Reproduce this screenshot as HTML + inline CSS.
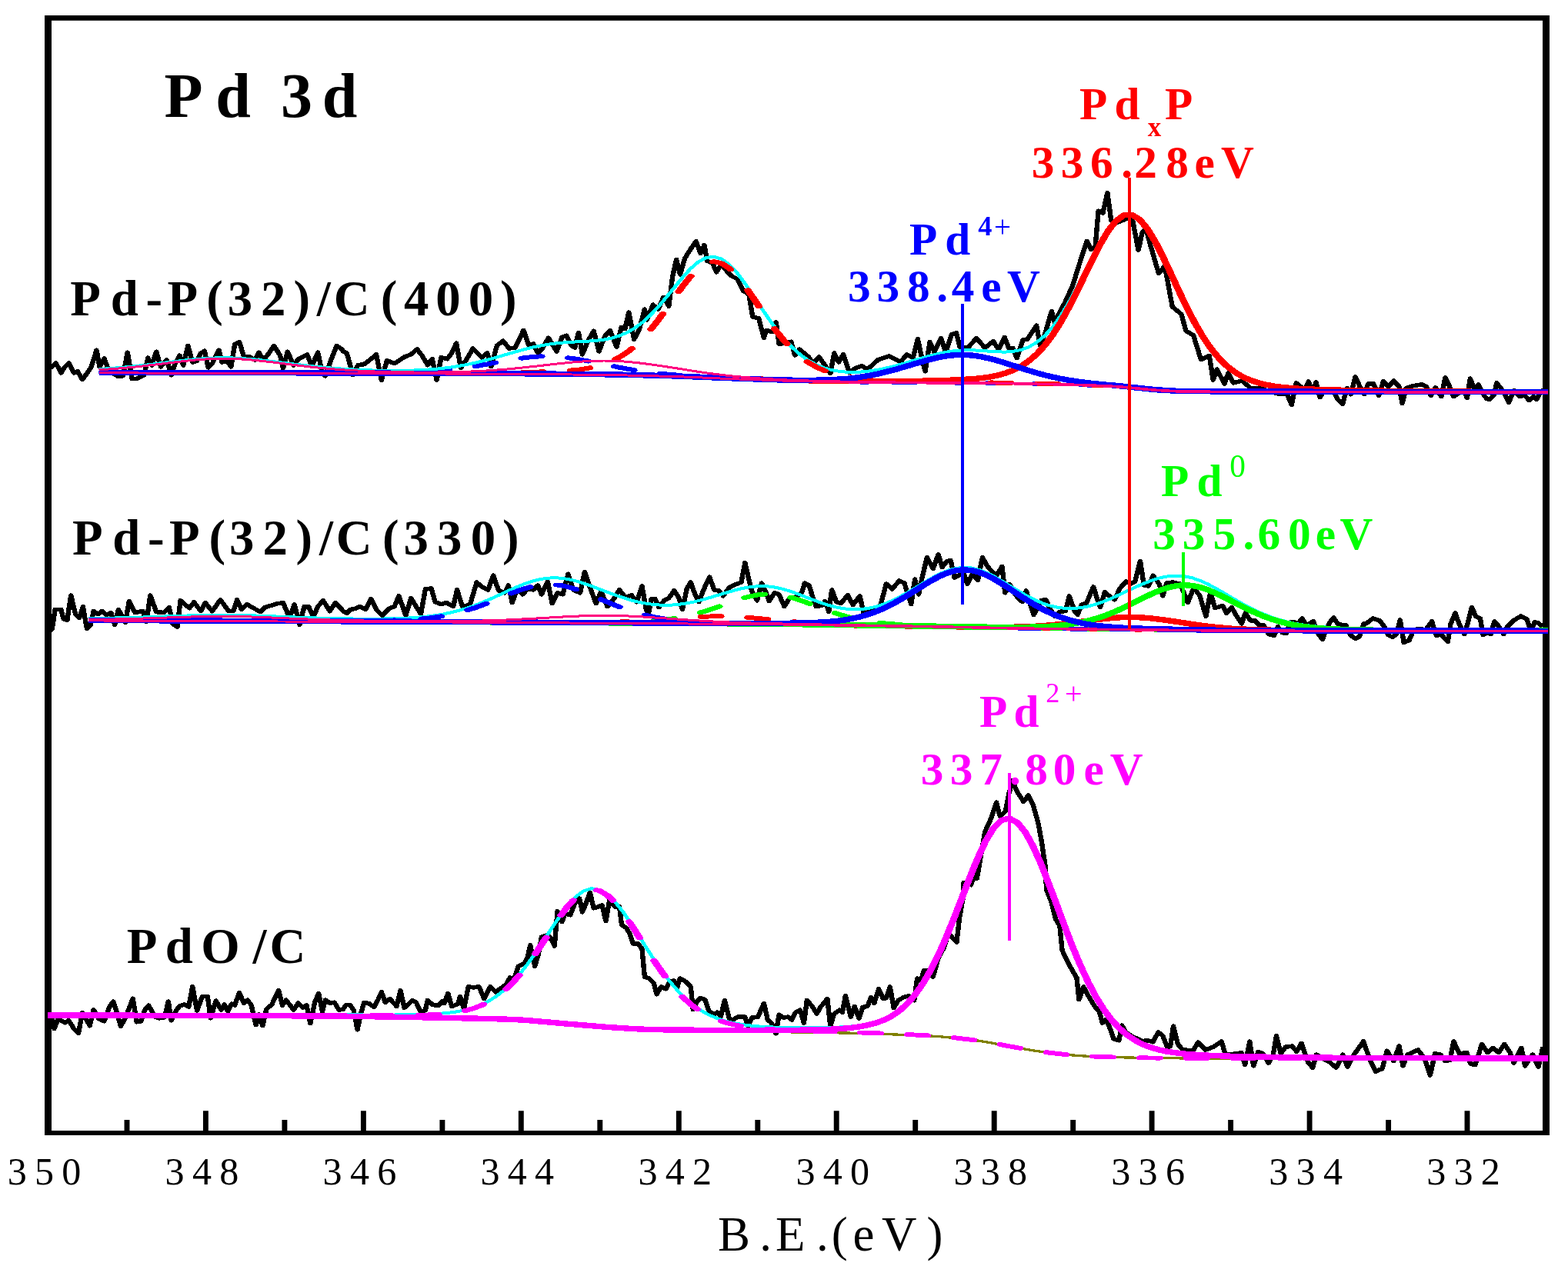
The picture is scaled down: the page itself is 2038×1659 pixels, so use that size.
<!DOCTYPE html>
<html lang="en">
<head>
<meta charset="utf-8">
<title>Pd 3d XPS spectra</title>
<style>
html,body{margin:0;padding:0;background:#fff;}
body{width:2038px;height:1659px;overflow:hidden;}
svg{display:block;}
text{font-family:"Liberation Serif",serif;white-space:pre;}
.b{font-weight:bold;}
.r{font-weight:normal;}
</style>
</head>
<body>
<svg width="2038" height="1659" viewBox="0 0 2038 1659" role="img" aria-label="Pd 3d XPS spectra">
<rect width="2038" height="1659" fill="#fff"/>
<path d="M58 20H2014V1476H58ZM67 26.8V1470H2005V26.8Z" fill="#000" fill-rule="evenodd"/>
<path d="M165 1471V1456M267.4 1471V1444.2M369.9 1471V1456M472.4 1471V1444.2M574.9 1471V1456M677.3 1471V1444.2M779.8 1471V1456M882.3 1471V1444.2M984.8 1471V1456M1087.2 1471V1444.2M1189.7 1471V1456M1292.2 1471V1444.2M1394.7 1471V1456M1497.1 1471V1444.2M1599.6 1471V1456M1702.1 1471V1444.2M1804.6 1471V1456M1907 1471V1444.2" fill="none" stroke="#000" stroke-width="6.9"/>
<defs>
<clipPath id="c1"><rect x="128.2" y="0" width="1883.8" height="1659"/></clipPath>
<clipPath id="c2"><rect x="114.8" y="0" width="1897.2" height="1659"/></clipPath>
<clipPath id="c3"><rect x="62" y="0" width="1950" height="1659"/></clipPath>
</defs>
<g fill="none" stroke-linejoin="round" shape-rendering="crispEdges">
<path transform="scale(1.14 1)" d="M54.2 1322.8L59.4 1324.8L61.9 1337.5L66.2 1324.8L74 1329.7L78.3 1326.7L84.3 1337.5L89.5 1343.4L93.8 1316.9L98.1 1324.8L102.4 1333.6L106.7 1313L112.7 1324.8L118.8 1327.7L124.8 1309.1L129.1 1302.2L133.4 1316.9L137.7 1334.6L142.9 1322.8L147.2 1311L151.5 1298.3L155.8 1328.7L160.9 1327.7L165.2 1313L169.5 1307.1L176.4 1321.8L181.6 1323.8L187.6 1322.8L191.9 1302.2L195.4 1326.7L201.4 1313L204.8 1308.1L210 1306.1L215.2 1309.1L219.5 1282.6L224.6 1314L230.7 1295.3L236.7 1295.3L240.1 1323.8L246.2 1301.2L252.2 1313L255.6 1306.1L259.9 1315L264.2 1305.1L267.7 1307.1L272.8 1290.4L278 1304.2L282.3 1300.2L286.6 1307.1L291.8 1332.6L295.2 1318.9L299.5 1333.6L303.8 1312L309.9 1306.1L317.6 1287.5L321.9 1307.1L326.2 1300.2L334.8 1313L340 1304.2L345.2 1310L349.5 1307.1L353.8 1330.7L358.9 1303.2L363.2 1291.4L367.5 1315L371 1300.2L376.1 1304.2L381.3 1303.2L386.5 1313L391.1 1312.3L394.6 1306.5L398.9 1306.5L403.2 1313.3L407.5 1338.8L411.8 1316.3L415.2 1303.5L420.4 1304.5L426.4 1309.4L430.7 1300.6L435 1289.8L439.3 1303.5L444.5 1298.6L452.2 1308.4L456.6 1287.8L460.9 1310.4L470.3 1300.6L474.6 1303.5L479.8 1316.3L485 1313.3L487.5 1300.6L493.6 1306.5L499.6 1307.4L504.8 1301.6L506.5 1304.5L510.8 1291.7L515.1 1308.4L522 1305.5L524.6 1295.7L528.9 1311.4L534 1282.9L540.1 1283.9L546.1 1282.9L552.1 1298.6L559 1282.9L565 1289.8L571 1284.9L577.1 1280L581.4 1271.1L585.7 1275.1L590.8 1256.4L597.7 1252.5L601.2 1245.6L604.6 1228.9L609.8 1256.4L614.1 1239.7L617.5 1218.1L622.7 1216.2L627 1218.1L632.2 1229.9L635.6 1184.8L640.8 1198.5L644.2 1187.7L650.2 1189.7L656.3 1172L660.6 1168.1L664 1185.8L668.3 1174L672.6 1160.2L676.9 1180.8L682.1 1178.9L686.4 1176.9L690.7 1197.5L695 1170L701 1178.9L706.2 1178.9L708.8 1202.4L713.9 1206.4L718.2 1214.2L721.7 1227L727.7 1227L732 1233.8L735 1270.1L740.1 1272.1L745.3 1278L748.7 1292.7L753.9 1282.9L759.1 1285.8L763.4 1276L768.5 1275.1L772 1283.9L775.4 1272.1L781.4 1276L787.5 1282.9L790.1 1312.3L794.4 1302.5L798.7 1297.6L803.8 1299.6L808.1 1314.3L814.2 1319.2L817.6 1316.3L821.9 1321.2L826.2 1300.6L831.4 1324.1L835.7 1326.1L840.8 1322.2L849.4 1322.2L852.9 1333.9L857.2 1323.1L864.1 1322.2L871 1304.5L875.3 1326.1L879.6 1330L884.7 1343.7L888.2 1319.2L893.4 1323.1L898.5 1322.2L902.8 1326.1L907.1 1316.3L912.3 1313.3L916.6 1330L920 1300.6L926.1 1308.4L931.2 1318.2L935.5 1309.4L943.3 1298.6L946.7 1333.9L951 1318.2L957.1 1313.3L960.5 1316.3L963.9 1294.7L970 1322.2L974.3 1308.4L979.4 1324.1L983.7 1309.4L988.9 1308.4L993.2 1296.6L996.7 1304.5L1001.8 1285.8L1007 1298.6L1010.4 1297.6L1014.7 1282.9L1019 1310.4L1024.2 1300.6L1030.2 1296.6L1036.2 1294.7L1042.3 1300.6L1045.7 1272.1L1050 1275.1L1053.5 1261.3L1058.6 1261.3L1063.8 1270.1L1069.8 1245.6L1074.1 1235.8L1076.1 1233L1081.2 1213.4L1090.7 1225.1L1094 1193.1L1098.1 1166.4L1098.8 1147.6L1107 1150.7L1111.9 1135L1113.9 1142.1L1118.7 1109.9L1122.9 1081.6L1129.8 1064.4L1136 1043.2L1140.1 1061.2L1146.3 1055L1150.4 1031.4L1154.6 1014.9L1158.7 1027.5L1167 1042.4L1172.5 1033.8L1178 1047.1L1183.5 1069.1L1187.6 1094.2L1191.7 1125.6L1193.1 1157L1198.6 1172.7L1203.5 1194.7L1208.3 1204.1L1211 1235.5L1219 1254.6L1227.6 1271.3L1230.2 1299.7L1235.3 1283L1241.4 1295.8L1248.2 1308.6L1253.4 1315.4L1256.9 1330.1L1261.2 1325.2L1265.5 1337L1269.8 1350.8L1275.8 1352.7L1279.2 1333.1L1283.5 1341.9L1289.6 1346.8L1297.3 1350.8L1302.5 1353.7L1308.5 1352.7L1314.5 1354.7L1320.6 1341.9L1325.7 1346.8L1330.9 1361.6L1334.3 1360.6L1337.8 1334.1L1342.9 1357.6L1348.1 1364.5L1355 1365.5L1360.2 1366.5L1365.9 1355.2L1374.5 1365L1383 1361.3L1392.7 1354L1397 1371.1L1410.9 1369.9L1415.2 1368.6L1419.5 1384.5L1424.8 1354L1429.1 1385.8L1434.5 1367.4L1439.8 1369.9L1446.3 1382.1L1451.6 1371.1L1455.3 1346.7L1460.2 1369.9L1465.6 1361.3L1473.1 1360.1L1478.4 1367.4L1483.8 1356.4L1491.3 1380.9L1496.6 1388.2L1500.9 1371.1L1509.5 1377.2L1515.9 1380.9L1523.4 1388.2L1530.9 1371.1L1536.3 1387L1543.8 1371.1L1554.5 1354L1562 1378.4L1568.4 1393.1L1575.9 1389.4L1581.3 1366.2L1588.8 1379.6L1595.2 1360.1L1599.5 1385.8L1604.9 1371.1L1616.7 1365L1624.2 1376L1630.6 1398L1636 1369.9L1642.4 1371.1L1647.7 1379.6L1653.1 1378.4L1657.4 1354L1663.8 1369.9L1672.4 1368.6L1676.7 1383.3L1682 1384.5L1689.5 1357.6L1696 1368.6L1702.4 1362.5L1708.8 1368.6L1715.3 1357.6L1721.7 1368.6L1726 1382.1L1734.6 1362.5L1738.8 1385.8L1747.4 1371.1L1753.9 1387L1759.2 1361.3" stroke="#000" stroke-width="5.6"/>
</g>
<g fill="none" stroke-linejoin="round" shape-rendering="crispEdges" clip-path="url(#c3)">
<path transform="scale(1.2 1)" d="M51.5 1319.8L60 1319.8L68.6 1319.9L77.1 1319.9L85.7 1319.9L94.2 1320L102.7 1320L111.3 1320L119.8 1320.1L128.4 1320.1L136.9 1320.1L145.4 1320.2L154 1320.2L162.5 1320.2L171.1 1320.3L179.6 1320.3L188.1 1320.3L196.7 1320.4L205.2 1320.4L213.7 1320.4L222.3 1320.4L230.8 1320.5L239.4 1320.5L247.9 1320.5L256.4 1320.6L265 1320.6L273.5 1320.6L282.1 1320.7L290.6 1320.7L299.1 1320.7L307.7 1320.8L316.2 1320.8L324.8 1320.8L333.3 1320.9L341.8 1320.9L350.4 1320.9L358.9 1321L367.5 1321.1L376 1321.2L384.5 1321.4L393.1 1321.5L401.6 1321.7L410.2 1321.9L418.7 1322.1L427.2 1322.2L435.8 1322.4L444.3 1322.6L452.9 1322.8L461.4 1322.9L469.9 1323.1L478.5 1323.3L487 1323.5L495.6 1323.7L504.1 1323.9L512.6 1324.1L521.2 1324.3L529.7 1324.5L538.2 1324.8L546.8 1325.1L555.3 1325.5L563.9 1326.1L572.4 1326.8L580.9 1327.7L589.5 1328.6L598 1329.5L606.6 1330.4L615.1 1331.3L623.6 1332.2L632.2 1333.1L640.7 1334L649.3 1334.8L657.8 1335.6L666.3 1336.4L674.9 1337.1L683.4 1337.7L692 1338.3L700.5 1338.8L709 1339.1L717.6 1339.3L726.1 1339.5L734.7 1339.6L743.2 1339.8L751.7 1339.9L760.3 1340.1L768.8 1340.2L777.4 1340.4L785.9 1340.6L794.4 1340.7L803 1340.9L811.5 1341L820.1 1341.2L828.6 1341.3L837.1 1341.5L845.7 1341.6L854.2 1341.8L862.7 1342L871.3 1342.1L879.8 1342.3L888.4 1342.5L896.9 1342.7L905.4 1342.8L914 1343L922.5 1343.2L931.1 1343.4L939.6 1343.6L948.1 1344L956.7 1344.3L965.2 1344.8L973.8 1345.2L982.3 1345.6L990.8 1346L999.4 1346.5L1007.9 1347L1016.5 1347.6L1025 1348.5L1033.5 1349.6L1042.1 1350.7L1050.6 1351.8L1059.2 1353.1L1067.7 1354.7L1076.2 1356.5L1084.8 1358.5L1093.3 1360.5L1101.9 1362.4L1110.4 1364.1L1118.9 1365.8L1127.5 1367.3L1136 1368.7L1144.6 1369.9L1153.1 1371L1161.6 1371.9L1170.2 1372.7L1178.7 1373.3L1187.2 1373.7L1195.8 1374.2L1204.3 1374.5L1212.9 1374.7L1221.4 1375L1229.9 1375.2L1238.5 1375.4L1247 1375.6L1255.6 1375.7L1264.1 1375.7L1272.6 1375.8L1281.2 1375.9L1289.7 1375.9L1298.3 1376L1306.8 1376L1315.3 1376L1323.9 1376L1332.4 1376L1341 1376L1349.5 1376L1358 1376L1366.6 1376L1375.1 1376L1383.7 1376L1392.2 1376L1400.7 1376L1409.3 1376L1417.8 1376L1426.4 1376L1434.9 1376L1443.4 1376L1452 1376L1460.5 1376L1469.1 1376L1477.6 1376L1486.1 1376L1494.7 1376L1503.2 1376L1511.7 1376L1520.3 1376L1528.8 1376L1537.4 1376L1545.9 1376L1554.4 1376L1563 1376L1571.5 1376L1580.1 1376L1588.6 1376L1597.1 1376L1605.7 1376L1614.2 1376L1622.8 1376L1631.3 1376L1639.8 1376L1648.4 1376L1656.9 1376L1665.5 1376L1674 1376L1676.7 1376" stroke="#808000" stroke-width="3.3"/>
<path transform="scale(1.2 1)" d="M51.5 1319L60 1319L68.6 1319L77.1 1319.1L85.7 1319.1L94.2 1319.1L102.7 1319.1L111.3 1319.2L119.8 1319.2L128.4 1319.2L136.9 1319.3L145.4 1319.3L154 1319.3L162.5 1319.3L171.1 1319.4L179.6 1319.4L188.1 1319.4L196.7 1319.4L205.2 1319.4L213.7 1319.4L222.3 1319.5L230.8 1319.5L239.4 1319.5L247.9 1319.5L256.4 1319.5L265 1319.5L273.5 1319.5L282.1 1319.5L290.6 1319.5L299.1 1319.5L307.7 1319.5L316.2 1319.5L324.8 1319.4L333.3 1319.4L341.8 1319.4L350.4 1319.4L358.9 1319.3L367.5 1319.3L376 1319.4L384.5 1319.4L393.1 1319.5L401.6 1319.5L410.2 1319.5L418.7 1319.5L427.2 1319.5L435.8 1319.4L444.3 1319.3L452.9 1319.1L461.4 1318.8L469.9 1318.3L478.5 1317.6L487 1316.6L495.6 1315.2L504.1 1313.1L512.6 1310.3L521.2 1306.4L529.7 1301.3L538.2 1294.8L546.8 1286.6L555.3 1276.7L563.9 1265L572.4 1251.9L580.9 1237.4L589.5 1221.9L598 1206.1L606.6 1190.9L615.1 1177.1L623.6 1165.9L632.2 1158.3L640.7 1155.2L649.3 1156.9L657.8 1162.9L666.3 1172.8L674.9 1185.6L683.4 1200.6L692 1216.7L700.5 1233L709 1248.8L717.6 1263.6L726.1 1277L734.7 1288.9L743.2 1299L751.7 1307.5L760.3 1314.5L768.8 1320L777.4 1324.3L785.9 1327.6L794.4 1330.1L803 1331.9L811.5 1333.3L820.1 1334.3L828.6 1335L837.1 1335.5L845.7 1335.9L854.2 1336.2L862.7 1336.3L871.3 1336.4L879.8 1336.4L888.4 1336.4L896.9 1336.2L905.4 1335.8L914 1335.2L922.5 1334.4L931.1 1333.1L939.6 1331.2L948.1 1328.6L956.7 1325L965.2 1320L973.8 1313.2L982.3 1304.1L990.8 1292.5L999.4 1278L1007.9 1260.5L1016.5 1240.1L1025 1217.2L1033.5 1192.1L1042.1 1165.8L1050.6 1139.2L1059.2 1114.1L1067.7 1092.3L1076.2 1075.5L1084.8 1065.4L1093.3 1063L1101.9 1068.4L1110.4 1080.8L1118.9 1099.2L1127.5 1122.2L1136 1148.2L1144.6 1175.6L1153.1 1203.1L1161.6 1229.6L1170.2 1254.2L1178.7 1276.3L1187.2 1295.6L1195.8 1312L1204.3 1325.6L1212.9 1336.7L1221.4 1345.4L1229.9 1352.2L1238.5 1357.4L1247 1361.3L1255.6 1364.2L1264.1 1366.3L1272.6 1367.9L1281.2 1369.1L1289.7 1370L1298.3 1370.7L1306.8 1371.3L1315.3 1371.7L1323.9 1372.1L1332.4 1372.4L1341 1372.7L1349.5 1372.9L1358 1373.1L1366.6 1373.3L1375.1 1373.5L1383.7 1373.6L1392.2 1373.8L1400.7 1373.9L1409.3 1374L1417.8 1374.1L1426.4 1374.2L1434.9 1374.3L1443.4 1374.4L1452 1374.4L1460.5 1374.5L1469.1 1374.6L1477.6 1374.6L1486.1 1374.7L1494.7 1374.7L1503.2 1374.8L1511.7 1374.8L1520.3 1374.8L1528.8 1374.9L1537.4 1374.9L1545.9 1374.9L1554.4 1374.9L1563 1375L1571.5 1375L1580.1 1375L1588.6 1375L1597.1 1375L1605.7 1375.1L1614.2 1375.1L1622.8 1375.1L1631.3 1375.1L1639.8 1375.1L1648.4 1375.1L1656.9 1375.1L1665.5 1375.1L1674 1375.1L1676.7 1375.1" stroke="#00ffff" stroke-width="4"/>
<path transform="scale(1.6 1)" d="M38.6 1319.8L45 1319.8L51.4 1319.8L52.2 1319.8M74.1 1319.9L77.1 1319.9L83.5 1320L89.9 1320L90.2 1320M112.1 1320.1L115.5 1320.1L121.9 1320.1L128.2 1320.2M150.1 1320.2L153.9 1320.2L160.3 1320.2L166.2 1320.3M188.1 1320.3L192.3 1320.3L198.7 1320.3L204.2 1320.3M226.1 1320.3L230.8 1320.3L237.2 1320.3L242.2 1320.3M264.1 1320.2L269.2 1320.1L275.6 1320.1L280.2 1320.1M302.1 1320.3L307.6 1320.3L314 1320.3L318.2 1320.3M340.1 1319.9L346 1319.6L352.5 1319.1L356.2 1318.7M377.9 1314L378.1 1314L384.5 1311.1L390.9 1307.3L393 1305.6M411 1286.1L416.5 1277.5L421.9 1267.7M434.9 1240L435.7 1238.3L442.1 1222.8L443.7 1218.9M455.7 1190.1L461.3 1178L465.7 1170.4M484.6 1157.3L486.9 1157.9L493.4 1164L497.8 1170.8M511.1 1198.2L512.6 1201.7L519 1217.8L519.6 1219.5M531.2 1248.7L531.8 1250.1L538.2 1264.9L540.3 1269.4M554.4 1295.8L557.4 1300.5L563.8 1309.1L566.6 1312.1M586 1327.7L589.4 1329.5L595.8 1332.1L601.6 1333.9M623.4 1337.8L627.8 1338.3L634.3 1338.9L639.4 1339.3M661.3 1340.7L666.3 1340.9L672.7 1341.3L677.4 1341.5M699.3 1342.5L704.7 1342.8L711.1 1343.2L715.4 1343.5M737.3 1345.1L743.1 1345.5L749.5 1346L753.3 1346.3M775.2 1349.2L781.6 1350.4L788 1351.6L791.1 1352.2M812.7 1358L813.6 1358.3L820 1360.3L826.4 1362.2L828.5 1362.8M850.2 1368.2L852 1368.6L858.4 1369.8L864.8 1370.9L866.1 1371.1M888 1373.5L890.4 1373.7L896.8 1374.1L903.2 1374.4L904.1 1374.5M926 1375.3L928.9 1375.4L935.3 1375.5L941.7 1375.6L942.1 1375.6M964 1375.9L967.3 1375.9L973.7 1375.9L980.1 1376M1002 1376L1005.7 1376L1012.1 1376L1018.1 1376M1040 1376L1044.1 1376L1050.6 1376L1056.1 1376M1078 1376L1082.6 1376L1089 1376L1094.1 1376M1116 1376L1121 1376L1127.4 1376L1132.1 1376M1154 1376L1159.4 1376L1165.8 1376L1170.1 1376M1192 1376L1197.9 1376L1204.3 1376L1208.1 1376M1230 1376L1236.3 1376L1242.7 1376L1246.1 1376" stroke="#ff00ff" stroke-width="5.9" stroke-linecap="round"/>
<path transform="scale(1.2 1)" d="M51.5 1319.8L60 1319.8L68.6 1319.9L77.1 1319.9L85.7 1319.9L94.2 1320L102.7 1320L111.3 1320L119.8 1320.1L128.4 1320.1L136.9 1320.1L145.4 1320.2L154 1320.2L162.5 1320.2L171.1 1320.3L179.6 1320.3L188.1 1320.3L196.7 1320.4L205.2 1320.4L213.7 1320.4L222.3 1320.4L230.8 1320.5L239.4 1320.5L247.9 1320.5L256.4 1320.6L265 1320.6L273.5 1320.6L282.1 1320.7L290.6 1320.7L299.1 1320.7L307.7 1320.8L316.2 1320.8L324.8 1320.8L333.3 1320.9L341.8 1320.9L350.4 1320.9L358.9 1321L367.5 1321.1L376 1321.2L384.5 1321.4L393.1 1321.5L401.6 1321.7L410.2 1321.9L418.7 1322L427.2 1322.2L435.8 1322.4L444.3 1322.6L452.9 1322.7L461.4 1322.9L469.9 1323.1L478.5 1323.3L487 1323.5L495.6 1323.7L504.1 1323.9L512.6 1324.1L521.2 1324.3L529.7 1324.5L538.2 1324.8L546.8 1325.1L555.3 1325.5L563.9 1326L572.4 1326.7L580.9 1327.6L589.5 1328.5L598 1329.4L606.6 1330.3L615.1 1331.2L623.6 1332L632.2 1332.9L640.7 1333.7L649.3 1334.6L657.8 1335.4L666.3 1336.1L674.9 1336.7L683.4 1337.4L692 1337.9L700.5 1338.4L709 1338.6L717.6 1338.8L726.1 1338.9L734.7 1339L743.2 1339.1L751.7 1339.2L760.3 1339.3L768.8 1339.3L777.4 1339.4L785.9 1339.4L794.4 1339.5L803 1339.5L811.5 1339.5L820.1 1339.5L828.6 1339.5L837.1 1339.5L845.7 1339.4L854.2 1339.4L862.7 1339.3L871.3 1339.1L879.8 1339L888.4 1338.7L896.9 1338.4L905.4 1337.9L914 1337.2L922.5 1336.2L931.1 1334.8L939.6 1332.9L948.1 1330.2L956.7 1326.6L965.2 1321.5L973.8 1314.6L982.3 1305.5L990.8 1293.8L999.4 1279.3L1007.9 1261.7L1016.5 1241.3L1025 1218.3L1033.5 1193.2L1042.1 1166.8L1050.6 1140.3L1059.2 1115.2L1067.7 1093.3L1076.2 1076.5L1084.8 1066.4L1093.3 1064L1101.9 1069.4L1110.4 1081.8L1118.9 1100.2L1127.5 1123.1L1136 1149.1L1144.6 1176.5L1153.1 1204L1161.6 1230.5L1170.2 1255.1L1178.7 1277.1L1187.2 1296.5L1195.8 1312.9L1204.3 1326.5L1212.9 1337.5L1221.4 1346.2L1229.9 1353L1238.5 1358.2L1247 1362.1L1255.6 1365L1264.1 1367.2L1272.6 1368.7L1281.2 1369.9L1289.7 1370.8L1298.3 1371.5L1306.8 1372.1L1315.3 1372.5L1323.9 1372.9L1332.4 1373.2L1341 1373.5L1349.5 1373.7L1358 1373.9L1366.6 1374.1L1375.1 1374.3L1383.7 1374.4L1392.2 1374.6L1400.7 1374.7L1409.3 1374.8L1417.8 1374.9L1426.4 1375L1434.9 1375.1L1443.4 1375.2L1452 1375.2L1460.5 1375.3L1469.1 1375.4L1477.6 1375.4L1486.1 1375.5L1494.7 1375.5L1503.2 1375.6L1511.7 1375.6L1520.3 1375.6L1528.8 1375.7L1537.4 1375.7L1545.9 1375.7L1554.4 1375.7L1563 1375.8L1571.5 1375.8L1580.1 1375.8L1588.6 1375.8L1597.1 1375.8L1605.7 1375.9L1614.2 1375.9L1622.8 1375.9L1631.3 1375.9L1639.8 1375.9L1648.4 1375.9L1656.9 1375.9L1665.5 1375.9L1674 1375.9L1676.7 1375.9" stroke="#ff00ff" stroke-width="7.4"/>
</g>
<g fill="none" stroke-linejoin="round" shape-rendering="crispEdges">
<path transform="scale(1.14 1)" d="M53.3 822.1L59.4 818.1L62.8 792.6L69.7 792.6L72.3 804.4L76.6 806.4L80.9 774L86 798.5L90.3 803.4L94.6 788.7L99 817.2L103.3 812.2L106.7 794.6L111.9 798.5L116.2 794.6L121.3 799.5L126.5 796.5L130.8 812.2L135.1 792.6L142.9 809.3L147.2 781.8L154 796.5L162.7 794.6L167 808.3L171.3 774L178.2 795.6L186.8 796.5L192.8 789.7L197.1 811.3L202.3 815.2L205.7 780.8L216 790.7L221.2 782.8L228.9 794.6L234.1 783.8L241.9 794.6L251.3 779.9L260.8 794.6L266 794.6L270.3 779.9L275.4 792.6L281.5 785.8L296.9 795.6L302.1 789.7L315.9 784.8L322.8 783.8L327.9 797.5L330.5 802.4L335.7 785.8L341.7 812.2L346.9 788.7L352 788.7L357.2 802.4L362.4 788.7L368.4 780.8L376.1 794.6L382.2 783.8L389.9 792.6L391.1 794.4L395.4 797.3L399.7 792.4L404.9 791.5L410.1 788.5L417 792.4L423 778.7L429 792.4L435.9 800.3L444.5 790.5L449.7 788.5L454.8 774.8L462.6 800.3L468.6 777.7L475.5 790.5L479.8 798.3L485 765.9L491.8 765L496.2 782.6L503 785.6L509.1 783.6L516.8 788.5L521.1 766.9L527.1 788.5L535.8 786.5L543.5 757.1L549.5 763L556.4 766.9L562.4 748.3L568.5 767.9L575.3 770.8L579.7 761L584 783.6L590 765L596 772.8L601.2 765.9L608.1 766.9L613.2 761L617.5 772.8L624.4 756.1L629.6 784.6L635.6 770.8L641.6 772.8L647.7 746.3L653.7 766.9L661.4 770.8L666.6 743.4L671.8 761L679.5 784.6L685.5 768.9L692.4 788.5L695.9 784.6L701 776.7L706.2 766.9L713.1 776.7L720 773.8L726 782.6L732 762L736.7 792.4L739.3 798.3L742.7 778.7L747 778.7L751.3 789.5L757.3 780.7L762.5 777.7L768.5 767.9L773.7 776.7L778 792.4L783.2 765L787.5 757.1L791.8 770.8L796.9 782.6L802.1 766.9L809 750.2L814.2 766.9L819.3 767.9L824.5 774.8L831.4 764L838.3 760L845.1 757.1L849.4 731.6L853.8 753.2L857.2 768.9L863.2 780.7L868.4 758.1L873.6 770.8L877 781.6L883 770.8L888.2 772.8L894.2 788.5L900.2 777.7L907.1 776.7L914 770.8L917.5 758.1L922.6 761L926.1 774.8L930.4 788.5L936.4 787.5L940.7 781.6L945 795.4L948.4 766.9L953.6 782.6L958.8 784.6L966.5 773.8L972.5 786.5L980.3 774.8L985.5 801.3L991.5 792.4L996.7 790.5L1003.5 788.5L1010.4 759.1L1017.3 765.9L1025.1 755.1L1031.1 758.1L1036.2 776.7L1038.8 785.6L1043.1 753.2L1047.4 772.8L1051.7 749.3L1056.9 724.7L1063.8 739.4L1069.8 720.8L1074.1 737.5L1079.6 729.6L1083.9 728.6L1088.3 751.2L1094.3 747.3L1098.6 744.3L1102.9 759.1L1108.9 746.3L1114.9 754.2L1120.1 724.7L1125.3 735.5L1130.4 742.4L1135.6 749.3L1142.5 736.5L1145.9 770.8L1151.1 760L1156.3 770.8L1161.4 778.7L1165.7 782.6L1170 767.9L1174.3 784.6L1178.6 799.3L1187.2 780.7L1192.4 779.7L1197.6 792.4L1202.7 801.3L1207.9 795.4L1214.8 794.4L1219.1 774.8L1225.1 794.4L1228.6 799.3L1232.9 786.5L1238.9 783.6L1246.6 763L1251 778.7L1254.4 789.5L1259.6 769.9L1264.7 774.8L1270.8 779.7L1276.8 765L1283.7 756.1L1288.8 759.1L1294 756.1L1300 729.6L1304.3 761L1309.5 762L1314.7 748.3L1321.5 759.1L1325.8 774.8L1330.1 758.1L1337 757.1L1345.6 759.1L1354.3 783.6L1361.1 764L1368 774.8L1374.9 801.3L1380.1 769.9L1385.2 790.5L1393.9 787.5L1398.2 797.3L1404.2 789.5L1408.5 798.3L1415.6 810.8L1419.9 797.1L1425.9 806.9L1431.1 806.9L1435.4 812.8L1440.5 812.8L1446.6 824.6L1452.6 826.5L1456.9 814.8L1462 822.6L1466.3 823.6L1471.5 808.9L1475.8 808.9L1480.1 810.8L1484.4 804L1489.6 812.8L1497.3 807.9L1503.4 824.6L1507.7 831.5L1512 818.7L1516.3 808.9L1520.6 803L1525.7 811.8L1534.4 812.8L1539.5 825.6L1545.5 830.5L1549.9 827.5L1555 810.8L1557.6 810.8L1565.3 804L1573.1 806.9L1578.3 814.8L1582.6 825.6L1587.7 828.5L1592 824.6L1596.3 805.9L1600.6 835.4L1606.7 832.4L1611.8 818.7L1618.7 817.7L1625.6 818.7L1632.5 807.9L1637.7 826.5L1642.8 824.6L1650.6 834.4L1654 810.8L1659.2 797.1L1663.5 810.8L1669.5 824.6L1673.8 808.9L1678.1 789.3L1682.4 801L1687.6 804L1691 825.6L1696.2 822.6L1699.6 824.6L1703.9 807.9L1709.1 814.8L1714.3 824.6L1718.6 814.8L1725.5 806.9L1734.1 801L1741 805L1745.3 821.6L1749.6 808.9L1754 809.9L1758.5 814.8" stroke="#000" stroke-width="5.6"/>
</g>
<g fill="none" stroke-linejoin="round" shape-rendering="crispEdges" clip-path="url(#c2)">
<path transform="scale(1.2 1)" d="M95.7 807.6L104.2 807.7L112.7 807.7L121.3 807.8L129.8 807.8L138.4 807.9L146.9 807.9L155.4 807.9L164 808L172.5 808L181.1 808.1L189.6 808.1L198.1 808.2L206.7 808.2L215.2 808.2L223.8 808.3L232.3 808.3L240.8 808.4L249.4 808.4L257.9 808.4L266.5 808.5L275 808.5L283.5 808.6L292.1 808.6L300.6 808.7L309.2 808.7L317.7 808.7L326.2 808.8L334.8 808.8L343.3 808.9L351.9 808.9L360.4 809L368.9 809L377.5 809L386 809.1L394.5 809.1L403.1 809.2L411.6 809.2L420.2 809.3L428.7 809.3L437.2 809.3L445.8 809.4L454.3 809.5L462.9 809.5L471.4 809.6L479.9 809.6L488.5 809.7L497 809.8L505.6 809.8L514.1 809.9L522.6 810L531.2 810L539.7 810.1L548.3 810.2L556.8 810.2L565.3 810.3L573.9 810.4L582.4 810.4L591 810.5L599.5 810.6L608 810.6L616.6 810.7L625.1 810.8L633.7 810.8L642.2 810.9L650.7 811L659.3 811L667.8 811.1L676.4 811.2L684.9 811.2L693.4 811.3L702 811.4L710.5 811.4L719 811.5L727.6 811.6L736.1 811.6L744.7 811.7L753.2 811.8L761.7 811.8L770.3 811.9L778.8 812L787.4 812L795.9 812.1L804.4 812.2L813 812.3L821.5 812.3L830.1 812.4L838.6 812.6L847.1 812.7L855.7 812.8L864.2 813L872.8 813.1L881.3 813.3L889.8 813.4L898.4 813.6L906.9 813.8L915.5 813.9L924 814.1L932.5 814.2L941.1 814.4L949.6 814.6L958.2 814.7L966.7 814.9L975.2 815L983.8 815.2L992.3 815.4L1000.9 815.5L1009.4 815.7L1017.9 815.9L1026.5 816.1L1035 816.3L1043.5 816.5L1052.1 816.7L1060.6 817L1069.2 817.2L1077.7 817.4L1086.2 817.6L1094.8 817.8L1103.3 818L1111.9 818.1L1120.4 818.3L1128.9 818.4L1137.5 818.5L1146 818.6L1154.6 818.7L1163.1 818.9L1171.6 819L1180.2 819.1L1188.7 819.2L1197.3 819.3L1205.8 819.4L1214.3 819.5L1222.9 819.7L1231.4 819.8L1240 819.9L1248.5 820L1257 820.1L1265.6 820.2L1274.1 820.3L1282.7 820.4L1291.2 820.5L1299.7 820.7L1308.3 820.8L1316.8 820.9L1325.4 820.9L1333.9 821L1342.4 821.1L1351 821.1L1359.5 821.1L1368 821.1L1376.6 821.1L1385.1 821.1L1393.7 821.1L1402.2 821.2L1410.7 821.2L1419.3 821.2L1427.8 821.2L1436.4 821.2L1444.9 821.2L1453.4 821.2L1462 821.2L1470.5 821.2L1479.1 821.2L1487.6 821.2L1496.1 821.2L1504.7 821.2L1513.2 821.2L1521.8 821.3L1530.3 821.3L1538.8 821.3L1547.4 821.3L1555.9 821.3L1564.5 821.3L1573 821.3L1581.5 821.3L1590.1 821.3L1598.6 821.3L1607.2 821.3L1615.7 821.3L1624.2 821.3L1632.8 821.3L1641.3 821.3L1649.9 821.4L1658.4 821.4L1666.9 821.4L1675.5 821.4L1676.7 821.4" stroke="#00ff00" stroke-width="3"/>
<path transform="scale(1.2 1)" d="M95.7 804.1L104.2 803.9L112.7 803.8L121.3 803.6L129.8 803.3L138.4 803.1L146.9 802.8L155.4 802.5L164 802.1L172.5 801.8L181.1 801.4L189.6 801L198.1 800.7L206.7 800.3L215.2 800.1L223.8 799.9L232.3 799.7L240.8 799.7L249.4 799.7L257.9 799.9L266.5 800.1L275 800.4L283.5 800.8L292.1 801.1L300.6 801.6L309.2 802L317.7 802.4L326.2 802.8L334.8 803.1L343.3 803.5L351.9 803.8L360.4 804L368.9 804.3L377.5 804.4L386 804.6L394.5 804.6L403.1 804.6L411.6 804.6L420.2 804.4L428.7 804.2L437.2 803.8L445.8 803.3L454.3 802.5L462.9 801.5L471.4 800.2L479.9 798.5L488.5 796.4L497 793.8L505.6 790.7L514.1 787.2L522.6 783.2L531.2 778.8L539.7 774.1L548.3 769.4L556.8 764.7L565.3 760.4L573.9 756.7L582.4 753.8L591 751.9L599.5 751.2L608 751.7L616.6 753.3L625.1 755.8L633.7 759L642.2 762.7L650.7 766.6L659.3 770.5L667.8 774.3L676.4 777.7L684.9 780.8L693.4 783.3L702 785.1L710.5 786.3L719 786.8L727.6 786.6L736.1 785.7L744.7 784.2L753.2 782.1L761.7 779.5L770.3 776.5L778.8 773.4L787.4 770.3L795.9 767.4L804.4 764.9L813 763.1L821.5 762.1L830.1 762.2L838.6 763.4L847.1 765.6L855.7 768.6L864.2 772.3L872.8 776.3L881.3 780.2L889.8 784L898.4 787.2L906.9 789.8L915.5 791.5L924 792.3L932.5 792.1L941.1 790.8L949.6 788.5L958.2 785.1L966.7 780.8L975.2 775.6L983.8 769.9L992.3 763.7L1000.9 757.4L1009.4 751.5L1017.9 746.1L1026.5 741.8L1035 739L1043.5 737.8L1052.1 738.5L1060.6 741L1069.2 745L1077.7 750.1L1086.2 756.1L1094.8 762.4L1103.3 768.6L1111.9 774.5L1120.4 779.7L1128.9 784.1L1137.5 787.5L1146 789.9L1154.6 791L1163.1 791.1L1171.6 790L1180.2 787.9L1188.7 784.9L1197.3 781.2L1205.8 776.9L1214.3 772.1L1222.9 767.3L1231.4 762.5L1240 758.1L1248.5 754.2L1257 751.1L1265.6 749.2L1274.1 748.5L1282.7 749.2L1291.2 751.3L1299.7 754.8L1308.3 759.5L1316.8 764.9L1325.4 770.8L1333.9 776.9L1342.4 782.8L1351 788.5L1359.5 793.6L1368 798.2L1376.6 802.2L1385.1 805.6L1393.7 808.4L1402.2 810.6L1410.7 812.4L1419.3 813.7L1427.8 814.8L1436.4 815.5L1444.9 816.1L1453.4 816.6L1462 816.9L1470.5 817.1L1479.1 817.3L1487.6 817.5L1496.1 817.6L1504.7 817.7L1513.2 817.8L1521.8 817.9L1530.3 817.9L1538.8 818L1547.4 818.1L1555.9 818.1L1564.5 818.2L1573 818.2L1581.5 818.3L1590.1 818.3L1598.6 818.3L1607.2 818.4L1615.7 818.4L1624.2 818.4L1632.8 818.4L1641.3 818.5L1649.9 818.5L1658.4 818.5L1666.9 818.5L1675.5 818.5L1676.7 818.6" stroke="#00ffff" stroke-width="4"/>
<path transform="scale(1.6 1)" d="M75.7 806.5L78.2 806.5L84.6 806.5L91 806.6L91.8 806.6M113.7 806.7L116.6 806.7L123 806.8L129.4 806.8L129.8 806.8M151.7 807L155 807L161.4 807L167.8 807.1M189.7 807.2L193.4 807.2L199.8 807.3L205.8 807.3M227.7 807.5L231.9 807.5L238.3 807.5L243.8 807.6M265.7 807.7L270.3 807.7L276.7 807.8L281.8 807.8M303.7 808L308.7 808L315.1 808L319.8 808.1M341.7 808.2L347.1 808.3L353.6 808.3L357.8 808.4M379.7 808.6L385.6 808.6L392 808.7L395.8 808.7M417.7 808.9L424 809L430.4 809L433.8 809.1M455.7 809.2L456 809.2L462.4 809.2L468.8 809.2L471.8 809.2M493.7 808.9L494.5 808.8L500.9 808.6L507.3 808.3L509.8 808.1M531.7 806.3L532.9 806.1L539.3 805.4L545.7 804.6L547.7 804.4M569.6 801.9L571.3 801.8L577.7 801.4L584.1 801.3L585.6 801.3M607.5 802.8L609.7 803.1L616.1 804L622.5 804.9L623.6 805.1M645.4 808.3L648.2 808.6L654.6 809.4L661 810.1L661.4 810.2M683.3 811.8L686.6 812L693 812.3L699.4 812.6M721.3 813.4L725 813.5L731.4 813.7L737.4 813.8M759.3 814.5L763.4 814.6L769.9 814.8L775.4 815M797.3 815.8L801.9 815.9L808.3 816.1L813.4 816.3M835.3 816.9L840.3 817L846.7 817.2L851.4 817.2M873.3 817.7L878.7 817.8L885.1 817.9L889.4 817.9M911.3 818.3L917.2 818.4L923.6 818.6L927.4 818.6M949.3 819L955.6 819.1L962 819.2L965.4 819.3M987.3 819.6L987.6 819.6L994 819.7L1000.4 819.8L1003.3 819.8M1025.3 819.9L1026 819.9L1032.4 819.9L1038.8 819.9L1041.3 819.9M1063.3 820L1064.5 820L1070.9 820L1077.3 820L1079.3 820M1101.3 820L1102.9 820L1109.3 820L1115.7 820L1117.3 820M1139.3 820L1141.3 820.1L1147.7 820.1L1154.1 820.1L1155.3 820.1M1177.3 820.1L1179.7 820.1L1186.2 820.1L1192.6 820.1L1193.3 820.1M1215.3 820.1L1218.2 820.1L1224.6 820.1L1231 820.1L1231.3 820.1M1253.3 820.2L1256.6 820.2L1257.5 820.2" stroke="#ff0000" stroke-width="5.9" stroke-linecap="round"/>
<path transform="scale(1.6 1)" d="M75.7 806.5L78.2 806.5L84.6 806.5L91 806.6L91.8 806.6M113.7 806.7L116.6 806.7L123 806.8L129.4 806.8L129.8 806.8M151.7 807L155 807L161.4 807L167.8 807.1M189.7 807.2L193.4 807.2L199.8 807.3L205.8 807.3M227.7 807.5L231.9 807.5L238.3 807.5L243.8 807.6M265.7 807.7L270.3 807.7L276.7 807.8L281.8 807.8M303.7 807.9L308.7 808L315.1 808L319.8 808M341.7 808.2L347.1 808.2L353.6 808.3L357.8 808.3M379.7 808.5L385.6 808.6L392 808.6L395.8 808.7M417.7 808.8L424 808.9L430.4 808.9L433.8 809M455.7 809.1L456 809.1L462.4 809.1L468.8 809.1L471.8 809.1M493.7 809.1L494.5 809.1L500.9 809L507.3 808.8L509.8 808.7M531.7 807.1L532.9 807L539.3 806L545.7 804.6L547.6 804.1M569 796.4L571.3 795.4L577.7 792.1L584.1 788.5L584.3 788.4M605 777.2L609.7 775.2L616.1 773.2L620.8 772.6M642.5 776.7L648.2 779.5L654.6 783.1L657.7 785M678.3 797L680.2 798L686.6 801.1L693 803.8L693.7 804M715.3 809.8L718.6 810.4L725 811.3L731.4 812M753.3 813.6L757 813.8L763.4 814.1L769.3 814.3M791.3 815.2L795.5 815.4L801.9 815.7L807.3 815.9M829.2 816.6L833.9 816.7L840.3 816.9L845.3 817M867.2 817.5L872.3 817.6L878.7 817.7L883.3 817.8M905.2 818.2L910.8 818.3L917.2 818.4L921.3 818.5M943.2 818.9L949.2 819L955.6 819.1L959.3 819.2M981.2 819.5L987.6 819.6L994 819.7L997.3 819.8M1019.2 819.9L1019.6 819.9L1026 819.9L1032.4 819.9L1035.3 819.9M1057.2 820L1058.1 820L1064.5 820L1070.9 820L1073.3 820M1095.2 820L1096.5 820L1102.9 820L1109.3 820L1111.3 820M1133.2 820L1134.9 820L1141.3 820L1147.7 820.1L1149.3 820.1M1171.2 820.1L1173.3 820.1L1179.7 820.1L1186.2 820.1L1187.3 820.1M1209.2 820.1L1211.8 820.1L1218.2 820.1L1224.6 820.1L1225.3 820.1M1247.2 820.2L1250.2 820.2L1256.6 820.2L1257.5 820.2" stroke="#00ff00" stroke-width="5.9" stroke-linecap="round"/>
<path transform="scale(1.6 1)" d="M76.6 806.4L78.2 806.5L84.6 806.5L91 806.5L92.7 806.5M114.6 806.7L116.6 806.7L123 806.7L129.4 806.8L130.7 806.8M152.6 806.9L155 806.9L161.4 806.9L167.8 807L168.7 807M190.6 807.1L193.4 807.1L199.8 807.1L206.2 807.1L206.7 807.1M228.6 807.2L231.9 807.2L238.3 807.2L244.7 807.2L244.7 807.2M266.6 807.2L270.3 807.2L276.7 807.2L282.7 807.2M304.6 806.9L308.7 806.9L315.1 806.7L320.7 806.4M342.6 804.5L347.1 803.8L353.6 802.5L358.6 801.3M379.9 793.3L385.6 790.4L392 786.7L395 784.7M415.3 771.5L417.6 770.1L424 766.4L430.4 763.3L430.6 763.3M452.3 760.5L456 761.2L462.4 763.5L467.9 766.2M488.3 779.3L494.5 783.5L500.9 787.6L503.1 789M524 799.5L526.5 800.5L532.9 802.7L539.3 804.4L539.8 804.5M561.6 808.1L564.9 808.4L571.3 808.9L577.7 809.3M599.6 810.1L603.3 810.2L609.7 810.4L615.7 810.6M637.6 811.1L641.8 811.2L648.2 811.4L653.7 811.6M675.6 812.2L680.2 812.3L686.6 812.5L691.7 812.7M713.6 813.2L718.6 813.4L725 813.6L729.6 813.7M751.6 814.3L757 814.4L763.4 814.6L767.6 814.8M789.6 815.5L795.5 815.7L801.9 815.9L805.6 816.1M827.5 816.7L833.9 816.9L840.3 817L843.6 817.1M865.5 817.5L865.9 817.5L872.3 817.6L878.7 817.8L881.6 817.8M903.5 818.2L904.3 818.2L910.8 818.3L917.2 818.4L919.6 818.5M941.5 818.9L942.8 818.9L949.2 819L955.6 819.1L957.6 819.2M979.5 819.5L981.2 819.6L987.6 819.7L994 819.7L995.6 819.7M1017.5 819.9L1019.6 819.9L1026 819.9L1032.4 819.9L1033.6 819.9M1055.5 820L1058.1 820L1064.5 820L1070.9 820L1071.6 820M1093.5 820L1096.5 820L1102.9 820L1109.3 820L1109.6 820M1131.5 820L1134.9 820L1141.3 820.1L1147.6 820.1M1169.5 820.1L1173.3 820.1L1179.7 820.1L1185.6 820.1M1207.5 820.1L1211.8 820.1L1218.2 820.1L1223.6 820.1M1245.5 820.2L1250.2 820.2L1256.6 820.2L1257.5 820.2" stroke="#0000ff" stroke-width="5.9" stroke-linecap="round"/>
<path transform="scale(1.2 1)" d="M95.7 806.4L104.2 806.5L112.7 806.5L121.3 806.6L129.8 806.6L138.4 806.7L146.9 806.7L155.4 806.7L164 806.8L172.5 806.8L181.1 806.9L189.6 806.9L198.1 807L206.7 807L215.2 807L223.8 807.1L232.3 807.1L240.8 807.2L249.4 807.2L257.9 807.2L266.5 807.3L275 807.3L283.5 807.4L292.1 807.4L300.6 807.5L309.2 807.5L317.7 807.5L326.2 807.6L334.8 807.6L343.3 807.7L351.9 807.7L360.4 807.8L368.9 807.8L377.5 807.8L386 807.9L394.5 807.9L403.1 808L411.6 808L420.2 808.1L428.7 808.1L437.2 808.1L445.8 808.2L454.3 808.3L462.9 808.3L471.4 808.4L479.9 808.4L488.5 808.5L497 808.6L505.6 808.6L514.1 808.7L522.6 808.8L531.2 808.8L539.7 808.9L548.3 809L556.8 809L565.3 809.1L573.9 809.2L582.4 809.2L591 809.3L599.5 809.4L608 809.4L616.6 809.5L625.1 809.6L633.7 809.6L642.2 809.7L650.7 809.8L659.3 809.8L667.8 809.9L676.4 810L684.9 810L693.4 810.1L702 810.2L710.5 810.2L719 810.3L727.6 810.4L736.1 810.4L744.7 810.5L753.2 810.6L761.7 810.6L770.3 810.7L778.8 810.8L787.4 810.8L795.9 810.9L804.4 811L813 811L821.5 811.1L830.1 811.2L838.6 811.3L847.1 811.5L855.7 811.6L864.2 811.7L872.8 811.9L881.3 812L889.8 812.2L898.4 812.4L906.9 812.5L915.5 812.7L924 812.8L932.5 813L941.1 813.1L949.6 813.3L958.2 813.4L966.7 813.6L975.2 813.7L983.8 813.9L992.3 814L1000.9 814.2L1009.4 814.3L1017.9 814.5L1026.5 814.7L1035 814.8L1043.5 815L1052.1 815.1L1060.6 815.3L1069.2 815.4L1077.7 815.4L1086.2 815.4L1094.8 815.3L1103.3 815.1L1111.9 814.8L1120.4 814.3L1128.9 813.6L1137.5 812.8L1146 811.8L1154.6 810.7L1163.1 809.5L1171.6 808.2L1180.2 806.8L1188.7 805.5L1197.3 804.3L1205.8 803.4L1214.3 802.7L1222.9 802.5L1231.4 802.6L1240 803.2L1248.5 804.1L1257 805.4L1265.6 806.8L1274.1 808.3L1282.7 809.9L1291.2 811.5L1299.7 812.9L1308.3 814.2L1316.8 815.4L1325.4 816.3L1333.9 817.2L1342.4 817.8L1351 818.3L1359.5 818.7L1368 819L1376.6 819.2L1385.1 819.4L1393.7 819.5L1402.2 819.6L1410.7 819.6L1419.3 819.7L1427.8 819.7L1436.4 819.8L1444.9 819.8L1453.4 819.8L1462 819.9L1470.5 819.9L1479.1 819.9L1487.6 819.9L1496.1 819.9L1504.7 819.9L1513.2 820L1521.8 820L1530.3 820L1538.8 820L1547.4 820L1555.9 820L1564.5 820L1573 820L1581.5 820.1L1590.1 820.1L1598.6 820.1L1607.2 820.1L1615.7 820.1L1624.2 820.1L1632.8 820.1L1641.3 820.1L1649.9 820.1L1658.4 820.1L1666.9 820.2L1675.5 820.2L1676.7 820.2" stroke="#ff0000" stroke-width="7.4"/>
<path transform="scale(1.2 1)" d="M95.7 806.4L104.2 806.5L112.7 806.5L121.3 806.6L129.8 806.6L138.4 806.7L146.9 806.7L155.4 806.7L164 806.8L172.5 806.8L181.1 806.9L189.6 806.9L198.1 807L206.7 807L215.2 807L223.8 807.1L232.3 807.1L240.8 807.2L249.4 807.2L257.9 807.2L266.5 807.3L275 807.3L283.5 807.4L292.1 807.4L300.6 807.5L309.2 807.5L317.7 807.5L326.2 807.6L334.8 807.6L343.3 807.7L351.9 807.7L360.4 807.8L368.9 807.8L377.5 807.8L386 807.9L394.5 807.9L403.1 808L411.6 808L420.2 808.1L428.7 808.1L437.2 808.1L445.8 808.2L454.3 808.3L462.9 808.3L471.4 808.4L479.9 808.4L488.5 808.5L497 808.6L505.6 808.6L514.1 808.7L522.6 808.8L531.2 808.8L539.7 808.9L548.3 809L556.8 809L565.3 809.1L573.9 809.2L582.4 809.2L591 809.3L599.5 809.4L608 809.4L616.6 809.5L625.1 809.6L633.7 809.6L642.2 809.7L650.7 809.8L659.3 809.8L667.8 809.9L676.4 810L684.9 810L693.4 810.1L702 810.2L710.5 810.2L719 810.3L727.6 810.4L736.1 810.4L744.7 810.5L753.2 810.6L761.7 810.6L770.3 810.7L778.8 810.7L787.4 810.8L795.9 810.9L804.4 810.9L813 811L821.5 811.1L830.1 811.2L838.6 811.3L847.1 811.4L855.7 811.6L864.2 811.7L872.8 811.9L881.3 812L889.8 812.1L898.4 812.3L906.9 812.4L915.5 812.6L924 812.7L932.5 812.9L941.1 813L949.6 813.2L958.2 813.3L966.7 813.4L975.2 813.6L983.8 813.7L992.3 813.9L1000.9 814L1009.4 814.1L1017.9 814.3L1026.5 814.5L1035 814.6L1043.5 814.8L1052.1 815L1060.6 815.1L1069.2 815.2L1077.7 815.4L1086.2 815.4L1094.8 815.5L1103.3 815.5L1111.9 815.3L1120.4 815.1L1128.9 814.7L1137.5 814.2L1146 813.4L1154.6 812.3L1163.1 810.8L1171.6 809L1180.2 806.6L1188.7 803.6L1197.3 800.2L1205.8 796.1L1214.3 791.6L1222.9 786.7L1231.4 781.5L1240 776.4L1248.5 771.5L1257 767.2L1265.6 763.8L1274.1 761.6L1282.7 760.7L1291.2 761.4L1299.7 763.5L1308.3 766.9L1316.8 771.2L1325.4 776.2L1333.9 781.4L1342.4 786.7L1351 791.9L1359.5 796.6L1368 800.9L1376.6 804.7L1385.1 807.9L1393.7 810.5L1402.2 812.7L1410.7 814.4L1419.3 815.7L1427.8 816.6L1436.4 817.4L1444.9 817.9L1453.4 818.3L1462 818.6L1470.5 818.9L1479.1 819L1487.6 819.2L1496.1 819.3L1504.7 819.4L1513.2 819.4L1521.8 819.5L1530.3 819.6L1538.8 819.6L1547.4 819.7L1555.9 819.7L1564.5 819.8L1573 819.8L1581.5 819.8L1590.1 819.9L1598.6 819.9L1607.2 819.9L1615.7 819.9L1624.2 820L1632.8 820L1641.3 820L1649.9 820L1658.4 820L1666.9 820.1L1675.5 820.1L1676.7 820.1" stroke="#00ff00" stroke-width="7.4"/>
<path transform="scale(1.2 1)" d="M95.7 806.4L104.2 806.5L112.7 806.5L121.3 806.6L129.8 806.6L138.4 806.7L146.9 806.7L155.4 806.7L164 806.8L172.5 806.8L181.1 806.9L189.6 806.9L198.1 807L206.7 807L215.2 807L223.8 807.1L232.3 807.1L240.8 807.2L249.4 807.2L257.9 807.2L266.5 807.3L275 807.3L283.5 807.4L292.1 807.4L300.6 807.5L309.2 807.5L317.7 807.5L326.2 807.6L334.8 807.6L343.3 807.7L351.9 807.7L360.4 807.8L368.9 807.8L377.5 807.8L386 807.9L394.5 807.9L403.1 808L411.6 808L420.2 808L428.7 808.1L437.2 808.1L445.8 808.2L454.3 808.2L462.9 808.3L471.4 808.4L479.9 808.4L488.5 808.5L497 808.5L505.6 808.6L514.1 808.7L522.6 808.7L531.2 808.8L539.7 808.9L548.3 808.9L556.8 809L565.3 809.1L573.9 809.1L582.4 809.2L591 809.2L599.5 809.3L608 809.4L616.6 809.4L625.1 809.5L633.7 809.5L642.2 809.6L650.7 809.6L659.3 809.7L667.8 809.7L676.4 809.8L684.9 809.8L693.4 809.9L702 809.9L710.5 810L719 810L727.6 810.1L736.1 810.1L744.7 810.1L753.2 810.2L761.7 810.2L770.3 810.2L778.8 810.3L787.4 810.3L795.9 810.3L804.4 810.3L813 810.3L821.5 810.3L830.1 810.3L838.6 810.3L847.1 810.2L855.7 810.2L864.2 810.1L872.8 809.9L881.3 809.5L889.8 809L898.4 808.3L906.9 807.3L915.5 805.9L924 804L932.5 801.6L941.1 798.5L949.6 794.8L958.2 790.4L966.7 785.3L975.2 779.6L983.8 773.5L992.3 767L1000.9 760.6L1009.4 754.5L1017.9 749.1L1026.5 744.7L1035 741.9L1043.5 740.8L1052.1 741.5L1060.6 744.1L1069.2 748.2L1077.7 753.6L1086.2 759.8L1094.8 766.5L1103.3 773.4L1111.9 780L1120.4 786.2L1128.9 791.9L1137.5 796.9L1146 801.2L1154.6 804.8L1163.1 807.7L1171.6 810.1L1180.2 812L1188.7 813.4L1197.3 814.5L1205.8 815.4L1214.3 816.1L1222.9 816.6L1231.4 817L1240 817.3L1248.5 817.6L1257 817.9L1265.6 818.1L1274.1 818.3L1282.7 818.5L1291.2 818.7L1299.7 818.9L1308.3 819L1316.8 819.2L1325.4 819.3L1333.9 819.4L1342.4 819.5L1351 819.5L1359.5 819.6L1368 819.6L1376.6 819.7L1385.1 819.7L1393.7 819.7L1402.2 819.8L1410.7 819.8L1419.3 819.8L1427.8 819.8L1436.4 819.8L1444.9 819.9L1453.4 819.9L1462 819.9L1470.5 819.9L1479.1 819.9L1487.6 819.9L1496.1 820L1504.7 820L1513.2 820L1521.8 820L1530.3 820L1538.8 820L1547.4 820L1555.9 820L1564.5 820.1L1573 820.1L1581.5 820.1L1590.1 820.1L1598.6 820.1L1607.2 820.1L1615.7 820.1L1624.2 820.1L1632.8 820.1L1641.3 820.1L1649.9 820.1L1658.4 820.1L1666.9 820.2L1675.5 820.2L1676.7 820.2" stroke="#0000ff" stroke-width="7.4"/>
<path transform="scale(1.2 1)" d="M95.7 806.9L104.2 807L112.7 807L121.3 807.1L129.8 807.1L138.4 807.2L146.9 807.2L155.4 807.2L164 807.3L172.5 807.3L181.1 807.4L189.6 807.4L198.1 807.5L206.7 807.5L215.2 807.5L223.8 807.6L232.3 807.6L240.8 807.7L249.4 807.7L257.9 807.7L266.5 807.8L275 807.8L283.5 807.9L292.1 807.9L300.6 808L309.2 808L317.7 808L326.2 808.1L334.8 808.1L343.3 808.2L351.9 808.2L360.4 808.3L368.9 808.3L377.5 808.3L386 808.4L394.5 808.4L403.1 808.5L411.6 808.5L420.2 808.6L428.7 808.6L437.2 808.6L445.8 808.7L454.3 808.8L462.9 808.8L471.4 808.9L479.9 808.9L488.5 809L497 809.1L505.6 809.1L514.1 809.2L522.6 809.3L531.2 809.3L539.7 809.4L548.3 809.5L556.8 809.5L565.3 809.6L573.9 809.7L582.4 809.7L591 809.8L599.5 809.9L608 809.9L616.6 810L625.1 810.1L633.7 810.1L642.2 810.2L650.7 810.3L659.3 810.3L667.8 810.4L676.4 810.5L684.9 810.5L693.4 810.6L702 810.7L710.5 810.7L719 810.8L727.6 810.9L736.1 810.9L744.7 811L753.2 811.1L761.7 811.1L770.3 811.2L778.8 811.3L787.4 811.3L795.9 811.4L804.4 811.5L813 811.6L821.5 811.6L830.1 811.7L838.6 811.9L847.1 812L855.7 812.1L864.2 812.3L872.8 812.4L881.3 812.6L889.8 812.7L898.4 812.9L906.9 813.1L915.5 813.2L924 813.4L932.5 813.5L941.1 813.7L949.6 813.9L958.2 814L966.7 814.2L975.2 814.3L983.8 814.5L992.3 814.7L1000.9 814.8L1009.4 815L1017.9 815.2L1026.5 815.4L1035 815.6L1043.5 815.8L1052.1 816L1060.6 816.3L1069.2 816.5L1077.7 816.7L1086.2 816.9L1094.8 817.1L1103.3 817.3L1111.9 817.4L1120.4 817.6L1128.9 817.7L1137.5 817.8L1146 817.9L1154.6 818L1163.1 818.2L1171.6 818.3L1180.2 818.4L1188.7 818.5L1197.3 818.6L1205.8 818.7L1214.3 818.8L1222.9 819L1231.4 819.1L1240 819.2L1248.5 819.3L1257 819.4L1265.6 819.5L1274.1 819.6L1282.7 819.7L1291.2 819.8L1299.7 820L1308.3 820.1L1316.8 820.2L1325.4 820.2L1333.9 820.3L1342.4 820.4L1351 820.4L1359.5 820.4L1368 820.4L1376.6 820.4L1385.1 820.4L1393.7 820.4L1402.2 820.5L1410.7 820.5L1419.3 820.5L1427.8 820.5L1436.4 820.5L1444.9 820.5L1453.4 820.5L1462 820.5L1470.5 820.5L1479.1 820.5L1487.6 820.5L1496.1 820.5L1504.7 820.5L1513.2 820.5L1521.8 820.6L1530.3 820.6L1538.8 820.6L1547.4 820.6L1555.9 820.6L1564.5 820.6L1573 820.6L1581.5 820.6L1590.1 820.6L1598.6 820.6L1607.2 820.6L1615.7 820.6L1624.2 820.6L1632.8 820.6L1641.3 820.6L1649.9 820.7L1658.4 820.7L1666.9 820.7L1675.5 820.7L1676.7 820.7" stroke="#ff0080" stroke-width="3"/>
<path transform="scale(1.2 1)" d="M95.7 805.6L104.2 805.5L112.7 805.3L121.3 805.1L129.8 804.9L138.4 804.6L146.9 804.3L155.4 804L164 803.7L172.5 803.3L181.1 803L189.6 802.6L198.1 802.3L206.7 802L215.2 801.7L223.8 801.5L232.3 801.4L240.8 801.3L249.4 801.4L257.9 801.6L266.5 801.8L275 802.1L283.5 802.5L292.1 802.9L300.6 803.3L309.2 803.8L317.7 804.2L326.2 804.6L334.8 805.1L343.3 805.4L351.9 805.8L360.4 806.1L368.9 806.4L377.5 806.6L386 806.8L394.5 807L403.1 807.2L411.6 807.3L420.2 807.4L428.7 807.5L437.2 807.6L445.8 807.6L454.3 807.7L462.9 807.7L471.4 807.7L479.9 807.7L488.5 807.6L497 807.5L505.6 807.4L514.1 807.2L522.6 807L531.2 806.7L539.7 806.4L548.3 806L556.8 805.5L565.3 805L573.9 804.5L582.4 803.9L591 803.3L599.5 802.7L608 802.1L616.6 801.6L625.1 801.1L633.7 800.7L642.2 800.4L650.7 800.3L659.3 800.3L667.8 800.5L676.4 800.8L684.9 801.2L693.4 801.8L702 802.4L710.5 803.1L719 803.8L727.6 804.5L736.1 805.3L744.7 806L753.2 806.7L761.7 807.3L770.3 807.9L778.8 808.4L787.4 808.9L795.9 809.3L804.4 809.6L813 810L821.5 810.3L830.1 810.5L838.6 810.8L847.1 811L855.7 811.2L864.2 811.4L872.8 811.7L881.3 811.8L889.8 812L898.4 812.2L906.9 812.4L915.5 812.6L924 812.7L932.5 812.9L941.1 813.1L949.6 813.3L958.2 813.4L966.7 813.6L975.2 813.8L983.8 813.9L992.3 814.1L1000.9 814.3L1009.4 814.4L1017.9 814.6L1026.5 814.8L1035 815.1L1043.5 815.3L1052.1 815.5L1060.6 815.7L1069.2 815.9L1077.7 816.2L1086.2 816.4L1094.8 816.6L1103.3 816.7L1111.9 816.9L1120.4 817L1128.9 817.2L1137.5 817.3L1146 817.4L1154.6 817.5L1163.1 817.6L1171.6 817.8L1180.2 817.9L1188.7 818L1197.3 818.1L1205.8 818.2L1214.3 818.3L1222.9 818.4L1231.4 818.6L1240 818.7L1248.5 818.8L1257 818.9L1265.6 819L1274.1 819.1L1282.7 819.2L1291.2 819.3L1299.7 819.4L1308.3 819.6L1316.8 819.6L1325.4 819.7L1333.9 819.8L1342.4 819.8L1351 819.9L1359.5 819.9L1368 819.9L1376.6 819.9L1385.1 819.9L1393.7 819.9L1402.2 820L1410.7 820L1419.3 820L1427.8 820L1436.4 820L1444.9 820L1453.4 820L1462 820L1470.5 820L1479.1 820L1487.6 820L1496.1 820L1504.7 820L1513.2 820L1521.8 820.1L1530.3 820.1L1538.8 820.1L1547.4 820.1L1555.9 820.1L1564.5 820.1L1573 820.1L1581.5 820.1L1590.1 820.1L1598.6 820.1L1607.2 820.1L1615.7 820.1L1624.2 820.1L1632.8 820.1L1641.3 820.1L1649.9 820.2L1658.4 820.2L1666.9 820.2L1675.5 820.2L1676.7 820.2" stroke="#ff0080" stroke-width="3"/>
</g>
<g fill="none" stroke-linejoin="round" shape-rendering="crispEdges">
<path transform="scale(1.14 1)" d="M53.3 478.9L59.4 476.9L63.7 472L69.7 484.8L74 476.9L78.3 472L84.3 484.8L88.6 482.8L93.8 493.6L99 485.8L104.1 476.9L110.1 455.3L113.6 476.9L118.8 466.1L123.1 478.9L126.5 483.8L135.1 489.7L140.3 488.7L145.4 458.3L150.6 492.6L155.8 492.6L164.4 487.7L168.7 465.1L173 475L178.2 457.3L183.3 476.9L190.2 468.1L195.4 487.7L199.7 473L204.8 462.2L209.1 475L214.3 449.4L219.5 471L224.6 469.1L228.9 459.3L233.2 456.3L237.5 477.9L241.9 473L249.6 455.3L253 471L259.1 469.1L263.4 476.9L267.7 447.5L272.8 444.5L278 463.2L284.9 464.2L290.9 468.1L295.2 458.3L300.4 468.1L307.3 458.3L312.4 449.4L319.3 462.2L322.8 478.9L327.9 457.3L334.8 475L340 467.1L350.3 461.2L355.5 475.9L362.4 458.3L367.5 484.8L371 488.7L377 469.1L383.9 449.4L389.9 454.3L391.1 456.9L395.4 458.9L402.3 487.3L408.3 474.6L415.2 473.6L423 466.7L429 460.8L435 494.2L441.1 468.7L449.7 472.6L461.7 463.8L468.6 460.8L475.5 454L481.5 462.8L487.5 474.6L492.7 466.7L497.9 494.2L503 464.8L509.9 466.7L515.1 458.9L520.3 446.1L525.4 478.5L532.3 466.7L539.2 453L549.5 464.8L555.5 458.9L559.9 476.5L566.7 449.1L573.6 443.2L580.5 453L587.4 452L596.9 429.4L602.9 449.1L608.1 447.1L613.2 458.9L618.4 453L625.3 439.3L630.4 449.1L634.7 456.9L640.8 438.3L645.9 436.3L651.1 449.1L655.4 452L659.7 432.4L664 460.8L670 444.2L676.9 430.4L683 456.9L689.4 437.4L695.4 429.5L703.1 451.1L708.3 425.6L712.6 427.6L716.9 406L722.9 441.3L729 427.6L735 402.1L737.6 415.8L744.5 396.2L750.5 402.1L756.5 386.4L762.5 398.1L766.9 358.9L771.2 337.3L775.5 356.9L780.6 336.3L787.5 323.6L793.5 313.7L798.7 329.4L803 318.6L806.4 339.3L812.5 342.2L816.8 354L821.9 344.2L834 358.9L840.9 362.8L847.8 378.5L853.8 382.4L858.1 411.9L865 413.8L871 439.4L873.6 429.5L880.5 431.5L884.8 418.7L888.2 447.2L896 446.2L902 444.3L906.3 461.9L911.5 454.1L921.8 463.9L927 472.7L933.9 463.9L946.8 485.5L951.1 459L956.2 470.8L961.4 460.9L968.3 484.5L975.2 478.6L982.9 475.7L988.9 480.6L1001 467.8L1013.9 462.9L1026.8 470.8L1033.7 460.9L1035.9 462.2L1041.1 465.1L1046.3 440.6L1050.6 463.2L1054.9 482.8L1060.1 444.5L1065.2 457.3L1073 439.6L1078.1 458.3L1085 434.7L1090.2 432.8L1094.5 451.4L1104 451.4L1113.4 439.6L1122.9 452.4L1132.4 443.6L1138.4 454.3L1145.3 438.6L1150.7 453.7L1155 452.8L1159.3 465.5L1166.2 442L1171.3 441L1181.7 423.3L1186 449.8L1192 432.2L1198.9 404.7L1202.3 418.4L1214.4 392.9L1223 371.3L1229.9 345.8L1239.3 313.4L1243.7 324.2L1248.8 320.3L1252.3 274.2L1257.4 277.1L1262.6 250.6L1266.9 286.9L1274.6 288.9L1283.2 285L1290.1 279.1L1297.9 325.2L1302.2 302.6L1306.5 297.7L1312.5 322.2L1321.1 355.6L1328 345.8L1336.6 398.8L1347 408.6L1352.1 430.2L1360.7 436.1L1369.3 467.5L1378.8 462.6L1383.1 494L1387.4 480.2L1396 498.9L1400.3 485.2L1406.3 497.9L1415.8 495L1426.1 504.8L1436.5 504.8L1458.9 512.6L1467.5 512.6L1472.6 526.4L1477.8 497.9L1487.6 506.7L1491.9 495.9L1496.2 509.7L1500.5 496.9L1504.8 516.5L1510.9 506.7L1519.5 505.8L1524.6 518.5L1530.7 525.4L1535.8 504.8L1540.1 512.6L1545.3 490L1550.5 502.8L1555.6 512.6L1559.9 498.9L1566 498.9L1572 514.6L1577.2 495.9L1583.2 502.8L1589.2 495L1595.2 502.8L1598.7 524.4L1603 504.8L1610.7 501.8L1621.1 499.9L1626.2 502.8L1631.4 514.6L1636.6 503.8L1643.4 515.6L1647.7 491L1652.1 500.8L1657.2 515.6L1664.1 510.7L1669.3 508.7L1672.7 517.5L1676.2 492L1681.3 506.7L1685.6 499.9L1689.9 510.7L1695.1 518.5L1698.5 519.5L1703.7 512.6L1706.3 497.9L1710.6 503.8L1715.8 512.6L1720.1 523.4L1726.1 507.7L1733 515.6L1738.1 513.6L1743.3 520.5L1748.5 515.6L1751.9 519.5L1757.1 508.7L1760.5 506.7" stroke="#000" stroke-width="5.6"/>
</g>
<g fill="none" stroke-linejoin="round" shape-rendering="crispEdges" clip-path="url(#c1)">
<path transform="scale(1.6 1)" d="M82.7 484.3L86.7 484.3L93.1 484.3L98.8 484.3M120.7 484.4L125.1 484.4L131.5 484.4L136.8 484.4M158.7 484.5L163.6 484.5L170 484.5L174.8 484.5M196.7 484.6L202 484.6L208.4 484.6L212.8 484.6M234.7 484.7L240.4 484.7L246.8 484.7L250.8 484.7M272.7 484.8L278.9 484.8L285.3 484.8L288.8 484.8M310.7 484.7L310.9 484.7L317.3 484.6L323.7 484.5L326.8 484.4M348.7 483.1L349.3 483L355.7 482.3L362.1 481.4L364.7 481M386.4 476.2L387.7 475.9L394.1 474L400.5 472.1L402.2 471.6M423.8 465.7L426.2 465.1L432.6 464.1L439 463.4L439.9 463.4M461.7 465.3L464.6 465.9L471 467.5L477.4 469.4L477.6 469.5M499.1 476.4L503 477.7L509.4 479.6L514.9 481.1M536.6 485.7L541.4 486.4L547.8 487.3L552.6 487.9M574.5 490.2L579.9 490.7L586.3 491.2L590.6 491.5M612.5 492.9L618.3 493.3L624.7 493.7L628.5 493.9M650.4 495L656.7 495.2L663.1 495.5L666.5 495.6M688.4 496.3L688.8 496.3L695.2 496.5L701.6 496.6L704.5 496.7M726.4 497.1L727.2 497.1L733.6 497.2L740 497.3L742.5 497.3M764.4 497.5L765.6 497.5L772 497.5L778.4 497.6L780.5 497.6M802.4 498L804 498L810.4 498.2L816.8 498.3L818.5 498.3M840.4 498.9L842.5 499L848.9 499.2L855.3 499.4L856.5 499.4M878.4 500.3L880.9 500.4L887.3 500.8L893.7 501.2L894.5 501.3M916.4 503.6L919.3 504L925.7 505L932.1 506L932.4 506M954.2 508.3L957.7 508.6L964.1 508.8L970.3 508.9M992.2 509L996.2 509L1002.6 509L1008.3 509M1030.2 509.1L1034.6 509.1L1041 509.1L1046.3 509.2M1068.2 509.2L1073 509.2L1079.4 509.2L1084.3 509.3M1106.2 509.3L1111.5 509.3L1117.9 509.4L1122.3 509.4M1144.2 509.4L1149.9 509.4L1156.3 509.5L1160.3 509.5M1182.2 509.5L1188.3 509.5L1194.7 509.6L1198.3 509.6M1220.2 509.6L1220.3 509.6L1226.7 509.7L1233.1 509.7L1236.3 509.7" stroke="#0000ff" stroke-width="5.9" stroke-linecap="round"/>
<path transform="scale(1.2 1)" d="M107.1 480L115.6 479.4L124.2 478.6L132.7 477.8L141.2 476.8L149.8 475.7L158.3 474.6L166.9 473.4L175.4 472.1L183.9 470.9L192.5 469.6L201 468.4L209.6 467.4L218.1 466.5L226.6 465.8L235.2 465.4L243.7 465.3L252.3 465.5L260.8 466L269.3 466.7L277.9 467.7L286.4 468.8L295 470L303.5 471.3L312 472.6L320.6 473.8L329.1 475L337.6 476.2L346.2 477.2L354.7 478.2L363.3 479L371.8 479.7L380.3 480.3L388.9 480.9L397.4 481.3L406 481.6L414.5 481.8L423 481.9L431.6 481.9L440.1 481.7L448.7 481.5L457.2 481L465.7 480.4L474.3 479.5L482.8 478.4L491.4 477L499.9 475.3L508.4 473.3L517 471.1L525.5 468.5L534.1 465.8L542.6 462.9L551.1 459.9L559.7 457L568.2 454.2L576.8 451.6L585.3 449.5L593.8 447.7L602.4 446.3L610.9 445.4L619.5 444.7L628 444.2L636.5 443.7L645.1 442.9L653.6 441.7L662.1 439.7L670.7 436.6L679.2 432.3L687.8 426.3L696.3 418.7L704.8 409.3L713.4 398.4L721.9 386.3L730.5 373.6L739 361.1L747.5 349.8L756.1 340.8L764.6 335.1L773.2 333.7L781.7 336.8L790.2 344.4L798.8 355.5L807.3 369.2L815.9 384.3L824.4 399.8L832.9 415L841.5 429L850 441.6L858.6 452.4L867.1 461.4L875.6 468.6L884.2 474.2L892.7 478.3L901.3 481.2L909.8 483L918.3 483.8L926.9 483.9L935.4 483.3L944 482.1L952.5 480.4L961 478.2L969.6 475.7L978.1 472.9L986.6 469.8L995.2 466.8L1003.7 463.8L1012.3 461L1020.8 458.7L1029.3 456.9L1037.9 455.7L1046.4 455.3L1055 455.4L1063.5 456L1072 456.7L1080.6 457.4L1089.1 457.6L1097.7 456.8L1106.2 454.8L1114.7 450.9L1123.3 444.8L1131.8 436.2L1140.4 424.8L1148.9 410.6L1157.4 393.8L1166 374.9L1174.5 354.8L1183.1 334.4L1191.6 314.9L1200.1 298.1L1208.7 285.4L1217.2 278.2L1225.8 277.7L1234.3 283.9L1242.8 296.3L1251.4 313.3L1259.9 333.5L1268.5 355.4L1277 377.6L1285.5 398.9L1294.1 418.6L1302.6 436.2L1311.1 451.3L1319.7 464L1328.2 474.2L1336.8 482.3L1345.3 488.5L1353.8 493.2L1362.4 496.7L1370.9 499.2L1379.5 501.1L1388 502.4L1396.5 503.4L1405.1 504.2L1413.6 504.8L1422.2 505.2L1430.7 505.6L1439.2 505.9L1447.8 506.2L1456.3 506.5L1464.9 506.7L1473.4 506.9L1481.9 507L1490.5 507.2L1499 507.4L1507.6 507.5L1516.1 507.6L1524.6 507.7L1533.2 507.8L1541.7 507.9L1550.3 508L1558.8 508.1L1567.3 508.2L1575.9 508.2L1584.4 508.3L1593 508.4L1601.5 508.4L1610 508.5L1618.6 508.5L1627.1 508.6L1635.6 508.6L1644.2 508.6L1652.7 508.7L1661.3 508.7L1669.8 508.8L1676.7 508.8" stroke="#00ffff" stroke-width="4"/>
<path transform="scale(1.6 1)" d="M83.3 484.3L86.7 484.3L93.1 484.3L99.4 484.3M121.3 484.4L125.1 484.4L131.5 484.4L137.4 484.4M159.3 484.5L163.6 484.5L170 484.5L175.4 484.5M197.3 484.6L202 484.6L208.4 484.6L213.4 484.6M235.3 484.7L240.4 484.7L246.8 484.7L251.4 484.7M273.3 484.7L278.9 484.7L285.3 484.8L289.4 484.8M311.3 484.8L317.3 484.8L323.7 484.8L327.4 484.8M349.3 484.8L355.7 484.7L362.1 484.7L365.4 484.7M387.3 484.5L387.7 484.5L394.1 484.4L400.5 484.4L403.4 484.3M425.3 483.8L426.2 483.8L432.6 483.7L439 483.4L441.4 483.3M463.3 481.6L464.6 481.4L471 480.4L477.4 478.8L479.2 478.2M499.9 467.1L503 464.6L509.4 458.1L513.4 453.1M528.8 428.2L535 415.5L538.5 407.8M551.3 379.3L554.3 372.7L560.7 359.9L561.2 359M579.2 340.4L579.9 340.1L586.3 342.4L592.7 349.1L593.5 350.4M607.5 377.3L611.9 387.4L616.5 398.5M629.1 427.2L631.1 431.5L637.5 444L639.3 447.1M655.7 470.2L656.7 471.3L663.1 477.2L669.5 481.8L670 482M691.2 490.4L695.2 491.3L701.6 492.4L707.2 493.1M729.1 494.9L733.6 495.1L740 495.4L745.2 495.7M767.1 496.3L772 496.5L778.4 496.6L783.2 496.8M805.1 497.4L810.4 497.6L816.8 497.8L821.2 497.9M843.1 498.7L848.9 498.9L855.3 499.1L859.1 499.2M881.1 500.2L887.3 500.6L893.7 501.1L897.1 501.4M919 503.8L919.3 503.9L925.7 504.9L932.1 505.9L935 506.3M956.9 508.5L957.7 508.5L964.1 508.8L970.6 508.9L972.9 508.9M994.9 509L996.2 509L1002.6 509L1009 509L1010.9 509M1032.9 509.1L1034.6 509.1L1041 509.1L1047.4 509.1L1048.9 509.2M1070.9 509.2L1073 509.2L1079.4 509.2L1085.8 509.3L1086.9 509.3M1108.9 509.3L1111.5 509.3L1117.9 509.3L1124.3 509.4L1124.9 509.4M1146.9 509.4L1149.9 509.4L1156.3 509.5L1162.7 509.5L1162.9 509.5M1184.9 509.5L1188.3 509.5L1194.7 509.6L1200.9 509.6M1222.9 509.6L1226.7 509.7L1233.1 509.7L1238.9 509.7" stroke="#ff0000" stroke-width="5.9" stroke-linecap="round"/>
<path transform="scale(1.2 1)" d="M107.1 484.3L115.6 484.3L124.2 484.3L132.7 484.3L141.2 484.3L149.8 484.4L158.3 484.4L166.9 484.4L175.4 484.4L183.9 484.4L192.5 484.5L201 484.5L209.6 484.5L218.1 484.5L226.6 484.6L235.2 484.6L243.7 484.6L252.3 484.6L260.8 484.6L269.3 484.7L277.9 484.7L286.4 484.7L295 484.7L303.5 484.7L312 484.8L320.6 484.8L329.1 484.8L337.6 484.8L346.2 484.8L354.7 484.9L363.3 484.9L371.8 484.9L380.3 485L388.9 485L397.4 485L406 485.1L414.5 485.1L423 485.2L431.6 485.2L440.1 485.2L448.7 485.3L457.2 485.3L465.7 485.3L474.3 485.4L482.8 485.4L491.4 485.5L499.9 485.5L508.4 485.5L517 485.6L525.5 485.6L534.1 485.6L542.6 485.7L551.1 485.7L559.7 485.8L568.2 485.8L576.8 485.9L585.3 486L593.8 486.1L602.4 486.2L610.9 486.3L619.5 486.4L628 486.5L636.5 486.6L645.1 486.7L653.6 486.8L662.1 486.9L670.7 487.1L679.2 487.3L687.8 487.6L696.3 487.8L704.8 488.1L713.4 488.3L721.9 488.6L730.5 488.9L739 489.2L747.5 489.6L756.1 490.1L764.6 490.5L773.2 490.9L781.7 491.3L790.2 491.7L798.8 492.1L807.3 492.4L815.9 492.8L824.4 493.1L832.9 493.5L841.5 493.8L850 494.2L858.6 494.4L867.1 494.6L875.6 494.8L884.2 495L892.7 495.1L901.3 495.3L909.8 495.4L918.3 495.5L926.9 495.6L935.4 495.6L944 495.6L952.5 495.6L961 495.6L969.6 495.6L978.1 495.5L986.6 495.4L995.2 495.3L1003.7 495.1L1012.3 494.8L1020.8 494.5L1029.3 494.2L1037.9 493.8L1046.4 493.2L1055 492.5L1063.5 491.5L1072 490L1080.6 488L1089.1 485.1L1097.7 481.2L1106.2 476L1114.7 469L1123.3 460L1131.8 448.8L1140.4 435.1L1148.9 418.9L1157.4 400.4L1166 380.2L1174.5 359L1183.1 337.8L1191.6 317.7L1200.1 300.4L1208.7 287.3L1217.2 279.9L1225.8 279.2L1234.3 285.3L1242.8 297.5L1251.4 314.5L1259.9 334.6L1268.5 356.5L1277 378.6L1285.5 400L1294.1 419.7L1302.6 437.2L1311.1 452.3L1319.7 464.9L1328.2 475.2L1336.8 483.2L1345.3 489.5L1353.8 494.1L1362.4 497.6L1370.9 500.1L1379.5 502L1388 503.3L1396.5 504.3L1405.1 505.1L1413.6 505.6L1422.2 506.1L1430.7 506.5L1439.2 506.8L1447.8 507.1L1456.3 507.3L1464.9 507.5L1473.4 507.7L1481.9 507.9L1490.5 508L1499 508.2L1507.6 508.3L1516.1 508.4L1524.6 508.5L1533.2 508.6L1541.7 508.7L1550.3 508.8L1558.8 508.9L1567.3 509L1575.9 509L1584.4 509.1L1593 509.2L1601.5 509.2L1610 509.3L1618.6 509.3L1627.1 509.4L1635.6 509.4L1644.2 509.4L1652.7 509.5L1661.3 509.5L1669.8 509.6L1676.7 509.6" stroke="#ff0000" stroke-width="7.4"/>
<path transform="scale(1.2 1)" d="M107.1 484.3L115.6 484.3L124.2 484.3L132.7 484.3L141.2 484.3L149.8 484.4L158.3 484.4L166.9 484.4L175.4 484.4L183.9 484.4L192.5 484.5L201 484.5L209.6 484.5L218.1 484.5L226.6 484.6L235.2 484.6L243.7 484.6L252.3 484.6L260.8 484.6L269.3 484.7L277.9 484.7L286.4 484.7L295 484.7L303.5 484.7L312 484.8L320.6 484.8L329.1 484.8L337.6 484.8L346.2 484.8L354.7 484.9L363.3 484.9L371.8 484.9L380.3 485L388.9 485L397.4 485L406 485.1L414.5 485.1L423 485.2L431.6 485.2L440.1 485.2L448.7 485.3L457.2 485.3L465.7 485.3L474.3 485.4L482.8 485.4L491.4 485.5L499.9 485.5L508.4 485.5L517 485.6L525.5 485.6L534.1 485.6L542.6 485.7L551.1 485.7L559.7 485.8L568.2 485.8L576.8 485.9L585.3 486L593.8 486.1L602.4 486.2L610.9 486.3L619.5 486.4L628 486.5L636.5 486.6L645.1 486.7L653.6 486.8L662.1 486.9L670.7 487.1L679.2 487.3L687.8 487.6L696.3 487.8L704.8 488.1L713.4 488.3L721.9 488.6L730.5 488.9L739 489.2L747.5 489.7L756.1 490.1L764.6 490.5L773.2 490.9L781.7 491.3L790.2 491.7L798.8 492.1L807.3 492.5L815.9 492.8L824.4 493.2L832.9 493.5L841.5 493.8L850 494.1L858.6 494.2L867.1 494.3L875.6 494.3L884.2 494.2L892.7 494L901.3 493.6L909.8 493L918.3 492.2L926.9 491.1L935.4 489.6L944 487.8L952.5 485.7L961 483.2L969.6 480.5L978.1 477.5L986.6 474.5L995.2 471.4L1003.7 468.5L1012.3 465.9L1020.8 463.7L1029.3 462.2L1037.9 461.4L1046.4 461.5L1055 462.3L1063.5 464L1072 466.2L1080.6 469L1089.1 472.1L1097.7 475.4L1106.2 478.7L1114.7 481.9L1123.3 485L1131.8 487.8L1140.4 490.2L1148.9 492.4L1157.4 494.2L1166 495.8L1174.5 497.2L1183.1 498.4L1191.6 499.4L1200.1 500.4L1208.7 501.3L1217.2 502.3L1225.8 503.4L1234.3 504.5L1242.8 505.6L1251.4 506.6L1259.9 507.3L1268.5 507.9L1277 508.4L1285.5 508.6L1294.1 508.7L1302.6 508.8L1311.1 508.8L1319.7 508.9L1328.2 508.9L1336.8 508.9L1345.3 508.9L1353.8 509L1362.4 509L1370.9 509L1379.5 509.1L1388 509.1L1396.5 509.1L1405.1 509.1L1413.6 509.1L1422.2 509.2L1430.7 509.2L1439.2 509.2L1447.8 509.2L1456.3 509.3L1464.9 509.3L1473.4 509.3L1481.9 509.3L1490.5 509.3L1499 509.3L1507.6 509.4L1516.1 509.4L1524.6 509.4L1533.2 509.4L1541.7 509.4L1550.3 509.5L1558.8 509.5L1567.3 509.5L1575.9 509.5L1584.4 509.5L1593 509.6L1601.5 509.6L1610 509.6L1618.6 509.6L1627.1 509.6L1635.6 509.6L1644.2 509.7L1652.7 509.7L1661.3 509.7L1669.8 509.7L1676.7 509.7" stroke="#0000ff" stroke-width="7.4"/>
<path transform="scale(1.2 1)" d="M107.1 484.9L115.6 484.9L124.2 484.9L132.7 484.9L141.2 484.9L149.8 485L158.3 485L166.9 485L175.4 485L183.9 485L192.5 485.1L201 485.1L209.6 485.1L218.1 485.1L226.6 485.2L235.2 485.2L243.7 485.2L252.3 485.2L260.8 485.2L269.3 485.3L277.9 485.3L286.4 485.3L295 485.3L303.5 485.3L312 485.4L320.6 485.4L329.1 485.4L337.6 485.4L346.2 485.4L354.7 485.5L363.3 485.5L371.8 485.5L380.3 485.6L388.9 485.6L397.4 485.6L406 485.7L414.5 485.7L423 485.8L431.6 485.8L440.1 485.8L448.7 485.9L457.2 485.9L465.7 485.9L474.3 486L482.8 486L491.4 486.1L499.9 486.1L508.4 486.1L517 486.2L525.5 486.2L534.1 486.3L542.6 486.3L551.1 486.3L559.7 486.4L568.2 486.4L576.8 486.5L585.3 486.6L593.8 486.7L602.4 486.8L610.9 486.9L619.5 487L628 487.1L636.5 487.2L645.1 487.3L653.6 487.5L662.1 487.6L670.7 487.8L679.2 488L687.8 488.2L696.3 488.5L704.8 488.7L713.4 489L721.9 489.3L730.5 489.6L739 489.9L747.5 490.4L756.1 490.8L764.6 491.2L773.2 491.7L781.7 492.1L790.2 492.5L798.8 492.9L807.3 493.3L815.9 493.6L824.4 494L832.9 494.4L841.5 494.8L850 495.1L858.6 495.4L867.1 495.7L875.6 495.9L884.2 496.1L892.7 496.4L901.3 496.6L909.8 496.8L918.3 497L926.9 497.1L935.4 497.3L944 497.4L952.5 497.5L961 497.6L969.6 497.7L978.1 497.8L986.6 497.9L995.2 498L1003.7 498L1012.3 498L1020.8 498.1L1029.3 498.1L1037.9 498.2L1046.4 498.3L1055 498.4L1063.5 498.5L1072 498.6L1080.6 498.8L1089.1 498.9L1097.7 499L1106.2 499.2L1114.7 499.4L1123.3 499.6L1131.8 499.8L1140.4 500L1148.9 500.2L1157.4 500.4L1166 500.7L1174.5 501L1183.1 501.4L1191.6 501.8L1200.1 502.3L1208.7 503L1217.2 503.7L1225.8 504.6L1234.3 505.6L1242.8 506.6L1251.4 507.5L1259.9 508.2L1268.5 508.7L1277 509.2L1285.5 509.4L1294.1 509.5L1302.6 509.5L1311.1 509.6L1319.7 509.6L1328.2 509.6L1336.8 509.6L1345.3 509.6L1353.8 509.7L1362.4 509.7L1370.9 509.7L1379.5 509.7L1388 509.7L1396.5 509.8L1405.1 509.8L1413.6 509.8L1422.2 509.8L1430.7 509.8L1439.2 509.8L1447.8 509.9L1456.3 509.9L1464.9 509.9L1473.4 509.9L1481.9 509.9L1490.5 510L1499 510L1507.6 510L1516.1 510L1524.6 510L1533.2 510L1541.7 510.1L1550.3 510.1L1558.8 510.1L1567.3 510.1L1575.9 510.1L1584.4 510.1L1593 510.2L1601.5 510.2L1610 510.2L1618.6 510.2L1627.1 510.2L1635.6 510.3L1644.2 510.3L1652.7 510.3L1661.3 510.3L1669.8 510.3L1676.7 510.3" stroke="#ff0080" stroke-width="3"/>
<path transform="scale(1.2 1)" d="M107.1 480.8L115.6 480.2L124.2 479.4L132.7 478.6L141.2 477.6L149.8 476.6L158.3 475.4L166.9 474.2L175.4 473L183.9 471.7L192.5 470.5L201 469.3L209.6 468.2L218.1 467.3L226.6 466.7L235.2 466.3L243.7 466.2L252.3 466.4L260.8 466.9L269.3 467.6L277.9 468.6L286.4 469.7L295 470.9L303.5 472.2L312 473.5L320.6 474.8L329.1 476L337.6 477.2L346.2 478.3L354.7 479.2L363.3 480.1L371.8 480.9L380.3 481.5L388.9 482.1L397.4 482.6L406 483L414.5 483.3L423 483.6L431.6 483.8L440.1 483.9L448.7 484L457.2 484.1L465.7 484.1L474.3 484L482.8 483.9L491.4 483.7L499.9 483.4L508.4 483.1L517 482.6L525.5 482.1L534.1 481.4L542.6 480.6L551.1 479.8L559.7 478.8L568.2 477.7L576.8 476.6L585.3 475.5L593.8 474.3L602.4 473.1L610.9 472.1L619.5 471.1L628 470.2L636.5 469.6L645.1 469.2L653.6 469L662.1 469.1L670.7 469.6L679.2 470.3L687.8 471.3L696.3 472.5L704.8 473.8L713.4 475.3L721.9 476.8L730.5 478.4L739 480L747.5 481.7L756.1 483.3L764.6 484.8L773.2 486.2L781.7 487.4L790.2 488.6L798.8 489.6L807.3 490.5L815.9 491.3L824.4 492.1L832.9 492.7L841.5 493.3L850 493.9L858.6 494.3L867.1 494.7L875.6 495L884.2 495.3L892.7 495.5L901.3 495.8L909.8 496L918.3 496.2L926.9 496.4L935.4 496.5L944 496.7L952.5 496.8L961 496.9L969.6 497L978.1 497.1L986.6 497.2L995.2 497.3L1003.7 497.3L1012.3 497.4L1020.8 497.4L1029.3 497.5L1037.9 497.6L1046.4 497.6L1055 497.8L1063.5 497.9L1072 498L1080.6 498.1L1089.1 498.3L1097.7 498.4L1106.2 498.6L1114.7 498.8L1123.3 499L1131.8 499.2L1140.4 499.4L1148.9 499.6L1157.4 499.8L1166 500.1L1174.5 500.4L1183.1 500.8L1191.6 501.2L1200.1 501.7L1208.7 502.3L1217.2 503.1L1225.8 504L1234.3 504.9L1242.8 506L1251.4 506.9L1259.9 507.6L1268.5 508.1L1277 508.6L1285.5 508.8L1294.1 508.9L1302.6 508.9L1311.1 509L1319.7 509L1328.2 509L1336.8 509L1345.3 509L1353.8 509.1L1362.4 509.1L1370.9 509.1L1379.5 509.1L1388 509.1L1396.5 509.2L1405.1 509.2L1413.6 509.2L1422.2 509.2L1430.7 509.2L1439.2 509.2L1447.8 509.3L1456.3 509.3L1464.9 509.3L1473.4 509.3L1481.9 509.3L1490.5 509.4L1499 509.4L1507.6 509.4L1516.1 509.4L1524.6 509.4L1533.2 509.4L1541.7 509.5L1550.3 509.5L1558.8 509.5L1567.3 509.5L1575.9 509.5L1584.4 509.5L1593 509.6L1601.5 509.6L1610 509.6L1618.6 509.6L1627.1 509.6L1635.6 509.7L1644.2 509.7L1652.7 509.7L1661.3 509.7L1669.8 509.7L1676.7 509.7" stroke="#ff0080" stroke-width="3"/>
</g>
<g fill="none" shape-rendering="crispEdges" stroke-width="4">
<path d="M1468 230.5V817.5" stroke="#ff0000"/>
<path d="M1251.2 394.5V786" stroke="#0000ff"/>
<path d="M1538.1 718V787.5" stroke="#00ff00"/>
<path d="M1312 1004.5V1223.3" stroke="#ff00ff"/>
</g>
<g>
<text class="b" x="213.5 280.3 325.9 364.9 418.7" y="151.6" font-size="82" fill="#000">Pd 3d</text>
<text class="b" x="91.2 143.8 189.5 217.5 268.3 295.7 339 381.4 411.7 433.7 494.7 524.9 566.3 608.7 649.9" y="410.1" font-size="64.8" fill="#000">Pd-P(32)/C(400)</text>
<text class="b" x="94.1 146.3 192 220 271.4 297.9 341.5 384.5 414.9 436.8 496.9 524.6 568 611.8 653.1" y="721" font-size="64.8" fill="#000">Pd-P(32)/C(330)</text>
<text class="b" x="164.8 214.8 261.3 328.6 350.6" y="1252.1" font-size="64.8" fill="#000">PdO/C</text>
<text fill="#ff0000"><tspan class="b" x="1402.9 1448.5" y="154.9" font-size="59.3">Pd</tspan><tspan class="b" x="1491.7" y="177" font-size="35">x</tspan><tspan class="b" x="1513.9" y="154.9" font-size="59.3">P</tspan></text>
<text class="b" x="1340.7 1378.7 1417.1 1457.2 1474.3 1515.2 1552.5 1587.1" y="230.7" font-size="59.3" fill="#ff0000">336.28eV</text>
<text fill="#0000ff"><tspan class="b" x="1182 1228.3" y="330.8" font-size="59.3">Pd</tspan><tspan class="b" x="1271.3" y="306" font-size="36.4">4</tspan><tspan class="r" x="1292" y="308" font-size="39">+</tspan></text>
<text class="b" x="1101.9 1139.6 1179 1217.2 1236.7 1275.2 1308.9" y="391.7" font-size="59.3" fill="#0000ff">338.4eV</text>
<text fill="#00ff00"><tspan class="b" x="1509 1555.5" y="644.8" font-size="59.3">Pd</tspan><tspan class="r" x="1598.2" y="619.6" font-size="41.3">0</tspan></text>
<text class="b" x="1498.2 1536.8 1576.5 1615.5 1634.4 1673.9 1709.7 1741.5" y="714.4" font-size="59.3" fill="#00ff00">335.60eV</text>
<text fill="#ff00ff"><tspan class="b" x="1273 1317.6" y="944.8" font-size="59.3">Pd</tspan><tspan class="r" x="1359.3" y="913" font-size="36.2">2</tspan><tspan class="r" x="1384" y="914.8" font-size="40">+</tspan></text>
<text class="b" x="1196.7 1234.7 1273.2 1312.1 1332.3 1368.8 1408.4 1442.8" y="1019.5" font-size="59.3" fill="#ff00ff">337.80eV</text>
<text class="r" x="9.7 45 80.3" y="1539.6" font-size="50.1" fill="#000">350</text>
<text class="r" x="214.6 249.9 285.2" y="1539.6" font-size="50.1" fill="#000">348</text>
<text class="r" x="419.6 454.9 490.2" y="1539.6" font-size="50.1" fill="#000">346</text>
<text class="r" x="624.5 659.8 695.1" y="1539.6" font-size="50.1" fill="#000">344</text>
<text class="r" x="829.5 864.8 900.1" y="1539.6" font-size="50.1" fill="#000">342</text>
<text class="r" x="1034.4 1069.7 1105" y="1539.6" font-size="50.1" fill="#000">340</text>
<text class="r" x="1239.4 1274.7 1310" y="1539.6" font-size="50.1" fill="#000">338</text>
<text class="r" x="1444.3 1479.6 1514.9" y="1539.6" font-size="50.1" fill="#000">336</text>
<text class="r" x="1649.3 1684.6 1719.9" y="1539.6" font-size="50.1" fill="#000">334</text>
<text class="r" x="1854.2 1889.5 1924.8" y="1539.6" font-size="50.1" fill="#000">332</text>
<text class="r" x="933.1 987.2 1008 1061.1 1080.8 1108.6 1145.9 1204.4" y="1625.9" font-size="62.9" fill="#000">B.E.(eV)</text>
</g>
</svg>
</body>
</html>
